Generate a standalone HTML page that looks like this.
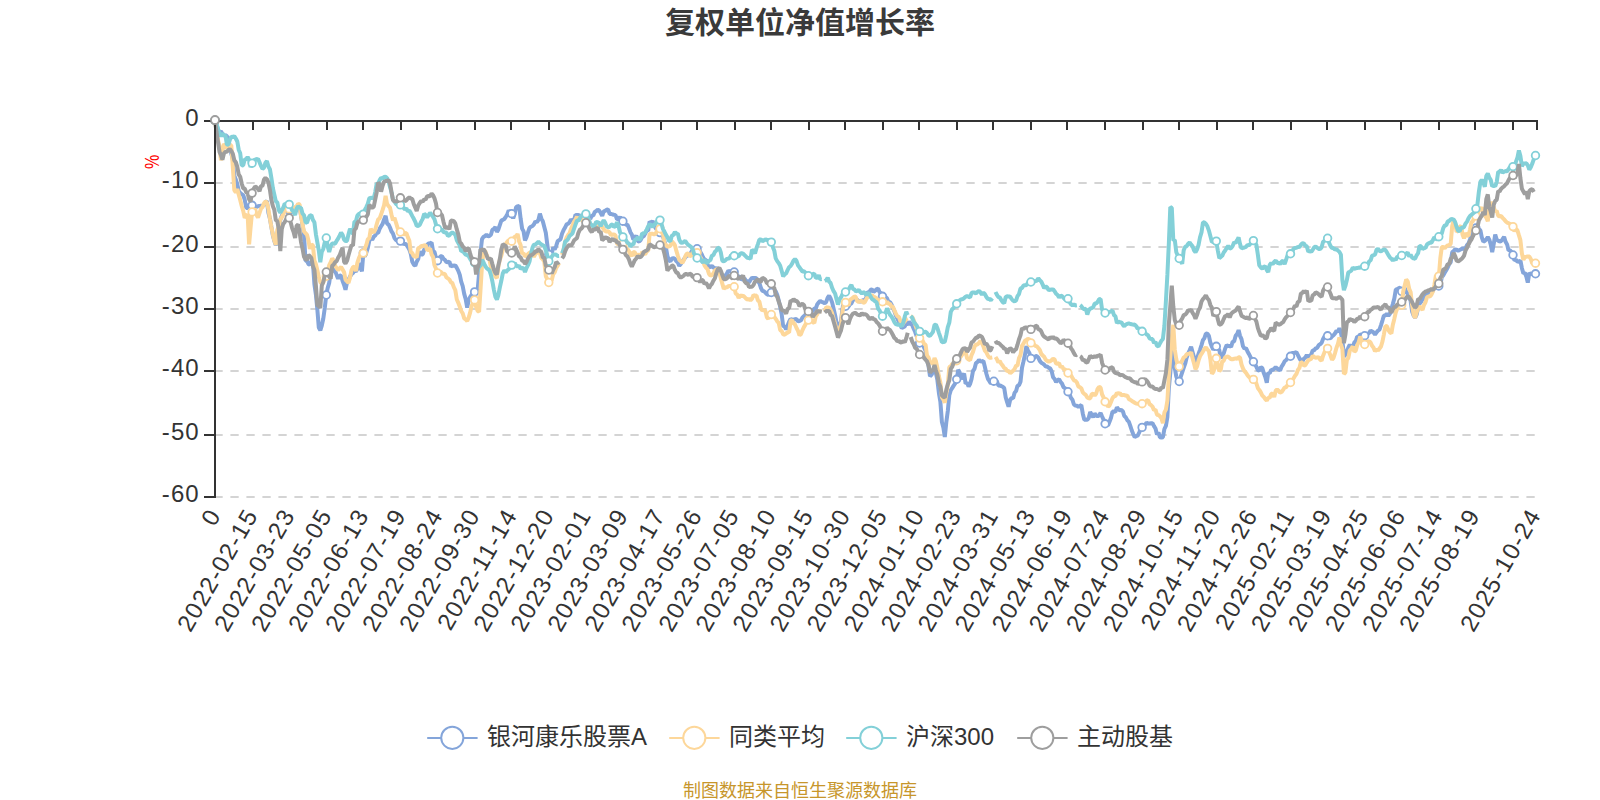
<!DOCTYPE html>
<html lang="zh"><head><meta charset="utf-8"><title>复权单位净值增长率</title>
<style>
html,body{margin:0;padding:0;background:#fff;}
body{width:1600px;height:800px;overflow:hidden;font-family:"Liberation Sans","Noto Sans CJK SC",sans-serif;}
svg{display:block}
text{font-family:"Liberation Sans","Noto Sans CJK SC",sans-serif;}
</style></head><body>
<svg width="1600" height="800" viewBox="0 0 1600 800">
<rect width="1600" height="800" fill="#fff"/>
<text x="800" y="33" text-anchor="middle" font-size="30" font-weight="bold" fill="#3a3a3a">复权单位净值增长率</text>
<line x1="215.0" y1="183.00" x2="1537.0" y2="183.00" stroke="#c6c6c6" stroke-width="1.5" stroke-dasharray="8.3 7.7" stroke-dashoffset="0.6"/>
<line x1="215.0" y1="247.00" x2="1537.0" y2="247.00" stroke="#c6c6c6" stroke-width="1.5" stroke-dasharray="8.3 7.7" stroke-dashoffset="0.6"/>
<line x1="215.0" y1="309.00" x2="1537.0" y2="309.00" stroke="#c6c6c6" stroke-width="1.5" stroke-dasharray="8.3 7.7" stroke-dashoffset="0.6"/>
<line x1="215.0" y1="371.00" x2="1537.0" y2="371.00" stroke="#c6c6c6" stroke-width="1.5" stroke-dasharray="8.3 7.7" stroke-dashoffset="0.6"/>
<line x1="215.0" y1="435.00" x2="1537.0" y2="435.00" stroke="#c6c6c6" stroke-width="1.5" stroke-dasharray="8.3 7.7" stroke-dashoffset="0.6"/>
<line x1="215.0" y1="497.00" x2="1537.0" y2="497.00" stroke="#c6c6c6" stroke-width="1.5" stroke-dasharray="8.3 7.7" stroke-dashoffset="0.6"/>
<polyline points="215.0,120.5 216.5,124.4 218.0,129.7 219.5,132.3 220.9,131.2 222.4,133.7 223.9,135.7 225.4,134.9 226.9,136.2 228.4,138.6 229.8,147.6 231.3,153.7 232.8,159.3 234.3,175.6 235.8,179.5 237.3,184.1 238.7,191.0 240.2,192.9 241.7,194.3 243.2,195.2 244.7,199.5 246.2,208.0 247.6,208.0 249.1,204.5 250.6,204.9 252.1,205.7 253.6,206.6 255.1,206.8 256.5,207.0 258.0,206.3 259.5,205.9 261.0,205.8 262.5,205.8 264.0,204.7 265.4,202.1 266.9,201.0 268.4,212.7 269.9,218.4 271.4,227.2 272.9,235.6 274.3,240.8 275.8,245.2 277.3,239.6 278.8,228.6 280.3,219.7 281.8,215.8 283.2,213.4 284.7,209.5 286.2,209.3 287.7,209.7 289.2,209.3 290.7,211.1 292.1,212.1 293.6,210.1 295.1,208.4 296.6,207.4 298.1,207.8 299.6,207.1 301.0,215.4 302.5,224.5 304.0,234.0 305.5,260.7 307.0,260.9 308.5,264.1 309.9,264.8 311.4,261.4 312.9,262.6 314.4,284.2 315.9,294.6 317.4,310.1 318.8,327.5 320.3,330.4 321.8,325.6 323.3,318.5 324.8,307.7 326.3,294.5 327.7,287.9 329.2,282.9 330.7,271.2 332.2,272.1 333.7,266.4 335.2,271.2 336.6,274.9 338.1,278.7 339.6,275.7 341.1,275.4 342.6,281.1 344.1,284.9 345.5,289.8 347.0,282.3 348.5,279.6 350.0,276.6 351.5,274.2 353.0,273.0 354.4,270.3 355.9,271.7 357.4,268.8 358.9,263.0 360.4,267.9 361.9,271.3 363.3,253.7 364.8,256.5 366.3,252.7 367.8,247.8 369.3,240.9 370.8,238.2 372.2,239.8 373.7,236.8 375.2,235.5 376.7,232.9 378.2,232.7 379.7,228.6 381.1,226.3 382.6,223.9 384.1,219.5 385.6,215.8 387.1,223.7 388.6,224.5 390.0,227.6 391.5,231.4 393.0,233.7 394.5,238.1 396.0,240.1 397.5,240.9 398.9,238.9 400.4,241.7 401.9,241.4 403.4,244.2 404.9,243.6 406.4,244.7 407.8,246.8 409.3,249.4 410.8,254.0 412.3,261.9 413.8,264.6 415.3,265.8 416.7,261.7 418.2,259.1 419.7,251.3 421.2,254.6 422.7,254.4 424.2,249.7 425.6,247.7 427.1,245.0 428.6,243.5 430.1,243.3 431.6,242.5 433.1,251.3 434.5,251.9 436.0,258.0 437.5,261.9 439.0,258.7 440.5,256.3 442.0,256.2 443.4,258.8 444.9,259.9 446.4,262.0 447.9,262.2 449.4,261.7 450.9,266.6 452.3,265.5 453.8,265.8 455.3,265.4 456.8,267.9 458.3,270.9 459.8,274.9 461.2,281.6 462.7,286.1 464.2,293.9 465.7,299.1 467.2,307.7 468.7,299.9 470.1,297.1 471.6,294.7 473.1,292.8 474.6,291.5 476.1,291.3 477.6,290.6 479.1,273.0 480.5,252.5 482.0,239.1 483.5,236.8 485.0,236.1 486.5,234.5 488.0,236.4 489.4,236.0 490.9,234.8 492.4,229.8 493.9,229.0 495.4,227.1 496.9,232.0 498.3,229.7 499.8,225.1 501.3,220.6 502.8,219.9 504.3,219.0 505.8,216.8 507.2,214.6 508.7,210.3 510.2,212.6 511.7,212.9 513.2,218.5 514.7,213.8 516.1,207.2 517.6,206.3 519.1,205.8 520.6,218.4 522.1,228.6 523.6,231.4 525.0,240.4 526.5,237.2 528.0,232.4 529.5,227.8 531.0,226.7 532.5,226.0 533.9,224.4 535.4,221.4 536.9,222.2 538.4,219.9 539.9,213.7 541.4,218.6 542.8,221.2 544.3,227.0 545.8,232.8 547.3,244.6 548.8,255.5 550.3,253.0 551.7,253.6 553.2,247.6 554.7,249.5 556.2,245.9 557.7,241.2 559.2,240.1 560.6,239.1 562.1,233.5 563.6,230.1 565.1,227.5 566.6,224.4 568.1,223.7 569.5,222.4 571.0,219.3 572.5,220.8 574.0,220.3 575.5,214.9 577.0,215.1 578.4,215.0 579.9,215.6 581.4,217.1 582.9,216.0 584.4,215.6 585.9,215.1 587.3,215.9 588.8,217.3 590.3,218.8 591.8,215.7 593.3,215.4 594.8,211.8 596.2,211.2 597.7,209.6 599.2,210.7 600.7,213.0 602.2,215.8 603.7,211.4 605.1,210.9 606.6,209.7 608.1,209.4 609.6,213.9 611.1,213.9 612.6,214.5 614.0,214.8 615.5,215.1 617.0,219.3 618.5,219.1 620.0,216.7 621.5,220.1 622.9,220.0 624.4,222.0 625.9,224.7 627.4,224.7 628.9,228.0 630.4,232.2 631.8,234.5 633.3,239.3 634.8,238.6 636.3,235.4 637.8,241.1 639.3,241.6 640.7,239.9 642.2,236.8 643.7,236.4 645.2,233.6 646.7,230.3 648.2,230.7 649.6,221.5 651.1,222.9 652.6,221.0 654.1,225.1 655.6,228.1 657.1,230.1 658.5,230.9 660.0,231.9 661.5,235.0 663.0,236.4 664.5,241.5 666.0,247.8 667.4,255.9 668.9,260.4 670.4,261.5 671.9,258.4 673.4,258.2 674.9,258.8 676.3,261.1 677.8,262.5 679.3,265.8 680.8,264.0 682.3,261.7 683.8,259.4 685.2,257.6 686.7,255.5 688.2,255.6 689.7,254.1 691.2,252.1 692.7,249.9 694.1,249.8 695.6,249.9 697.1,248.2 698.6,249.1 700.1,251.7 701.6,254.0 703.0,257.3 704.5,259.9 706.0,259.8 707.5,264.6 709.0,267.0 710.5,267.0 711.9,265.8 713.4,267.3 714.9,268.8 716.4,267.9 717.9,269.2 719.4,273.7 720.8,272.6 722.3,278.5 723.8,276.5 725.3,275.7 726.8,273.6 728.3,270.8 729.7,271.7 731.2,271.0 732.7,271.4 734.2,272.5 735.7,274.2 737.2,275.8 738.7,276.4 740.1,276.9 741.6,279.7 743.1,278.9 744.6,278.6 746.1,281.0 747.6,281.2 749.0,282.5 750.5,279.7 752.0,277.9 753.5,278.0 755.0,278.1 756.5,278.3 757.9,281.3 759.4,283.2 760.9,287.8 762.4,290.9 763.9,291.3 765.4,292.6 766.8,294.1 768.3,295.0 769.8,293.7 771.3,293.4 772.8,292.1 774.3,290.1 775.7,291.2 777.2,294.7 778.7,300.2 780.2,307.1 781.7,314.4 783.2,326.4 784.6,326.2 786.1,329.4 787.6,325.6 789.1,321.8 790.6,319.0 792.1,319.8 793.5,319.6 795.0,319.3 796.5,319.0 798.0,321.3 799.5,321.0 801.0,320.2 802.4,317.6 803.9,316.1 805.4,315.4 806.9,314.4 808.4,314.0 809.9,314.3 811.3,311.8 812.8,311.0 814.3,308.6 815.8,308.5 817.3,304.2 818.8,302.4 820.2,300.9 821.7,301.9 823.2,302.4 824.7,303.2 826.2,301.9 827.7,297.6 829.1,295.7 830.6,298.5 832.1,302.4 833.6,308.7 835.1,315.1 836.6,323.1 838.0,334.3 839.5,325.7 841.0,321.2 842.5,308.3 844.0,306.4 845.5,307.3 846.9,306.4 848.4,306.6 849.9,304.4 851.4,303.3 852.9,300.2 854.4,298.9 855.8,298.2 857.3,300.0 858.8,301.1 860.3,301.8 861.8,300.8 863.3,300.2 864.7,300.0 866.2,297.9 867.7,291.8 869.2,292.4 870.7,289.8 872.2,289.5 873.6,292.0 875.1,290.8 876.6,289.2 878.1,288.5 879.6,292.3 881.1,293.2 882.5,297.7 884.0,296.5 885.5,297.0 887.0,298.3 888.5,302.1 890.0,302.1 891.4,304.4 892.9,307.8 894.4,311.1 895.9,315.7 897.4,318.6 898.9,321.8 900.3,324.7 901.8,328.1 903.3,327.1 904.8,326.4 906.3,323.4 907.8,324.6 909.2,321.7 910.7,323.9 912.2,324.9 913.7,328.7 915.2,332.0 916.7,336.3 918.1,338.6 919.6,343.0 921.1,344.0 922.6,342.5 924.1,347.7 925.6,350.8 927.0,360.3 928.5,365.6 930.0,376.2 931.5,374.8 933.0,371.9 934.5,367.0 935.9,373.0 937.4,380.2 938.9,393.1 940.4,402.0 941.9,422.0 943.4,427.7 944.8,437.0 946.3,422.2 947.8,411.0 949.3,395.3 950.8,390.3 952.3,387.9 953.7,385.6 955.2,383.4 956.7,379.7 958.2,369.8 959.7,372.4 961.2,379.4 962.6,375.8 964.1,373.5 965.6,383.6 967.1,382.7 968.6,386.4 970.1,383.9 971.5,379.1 973.0,371.0 974.5,368.8 976.0,362.9 977.5,362.1 979.0,359.9 980.4,361.2 981.9,361.4 983.4,360.9 984.9,367.0 986.4,373.7 987.9,378.8 989.3,380.9 990.8,383.4 992.3,382.1 993.8,380.4 995.3,382.4 996.8,380.9 998.3,385.4 999.7,385.5 1001.2,386.0 1002.7,386.7 1004.2,388.0 1005.7,397.4 1007.2,402.4 1008.6,406.7 1010.1,400.0 1011.6,398.0 1013.1,398.2 1014.6,392.7 1016.1,391.0 1017.5,385.7 1019.0,385.3 1020.5,381.7 1022.0,367.7 1023.5,361.4 1025.0,354.5 1026.4,346.2 1027.9,350.6 1029.4,353.0 1030.9,358.9 1032.4,358.1 1033.9,358.3 1035.3,356.3 1036.8,356.1 1038.3,357.6 1039.8,360.9 1041.3,362.7 1042.8,363.6 1044.2,364.6 1045.7,366.6 1047.2,366.6 1048.7,367.8 1050.2,368.4 1051.7,371.4 1053.1,377.2 1054.6,379.0 1056.1,382.2 1057.6,380.1 1059.1,379.2 1060.6,381.9 1062.0,383.6 1063.5,387.1 1065.0,388.3 1066.5,389.0 1068.0,390.3 1069.5,393.5 1070.9,397.8 1072.4,399.7 1073.9,404.5 1075.4,405.6 1076.9,405.8 1078.4,407.0 1079.8,405.9 1081.3,405.1 1082.8,413.7 1084.3,419.7 1085.8,419.7 1087.3,419.7 1088.7,417.9 1090.2,412.1 1091.7,414.5 1093.2,417.3 1094.7,413.5 1096.2,415.4 1097.6,416.2 1099.1,415.4 1100.6,412.9 1102.1,416.5 1103.6,419.8 1105.1,422.5 1106.5,424.1 1108.0,425.5 1109.5,421.8 1111.0,417.8 1112.5,411.6 1114.0,411.6 1115.4,411.9 1116.9,407.3 1118.4,409.2 1119.9,410.3 1121.4,410.0 1122.9,411.4 1124.3,416.0 1125.8,417.3 1127.3,420.2 1128.8,421.6 1130.3,425.8 1131.8,430.5 1133.2,434.0 1134.7,437.2 1136.2,436.2 1137.7,435.7 1139.2,432.5 1140.7,428.7 1142.1,427.0 1143.6,426.0 1145.1,424.8 1146.6,422.6 1148.1,423.5 1149.6,423.6 1151.0,423.3 1152.5,423.2 1154.0,426.1 1155.5,428.5 1157.0,434.6 1158.5,432.5 1159.9,437.3 1161.4,437.6 1162.9,437.2 1164.4,429.0 1165.9,425.9 1167.4,416.8 1168.8,388.8 1170.3,372.9 1171.8,356.0 1173.3,349.5 1174.8,368.1 1176.3,376.6 1177.7,380.2 1179.2,381.2 1180.7,376.8 1182.2,372.3 1183.7,367.9 1185.2,363.7 1186.6,357.8 1188.1,353.5 1189.6,350.3 1191.1,346.9 1192.6,352.2 1194.1,357.8 1195.5,362.7 1197.0,358.7 1198.5,354.0 1200.0,349.8 1201.5,345.1 1203.0,339.9 1204.4,338.2 1205.9,333.6 1207.4,333.7 1208.9,335.9 1210.4,342.8 1211.9,346.7 1213.3,349.8 1214.8,347.6 1216.3,346.2 1217.8,348.2 1219.3,350.0 1220.8,358.2 1222.2,356.0 1223.7,353.3 1225.2,348.5 1226.7,345.1 1228.2,346.0 1229.7,345.9 1231.1,347.0 1232.6,341.8 1234.1,341.5 1235.6,335.9 1237.1,334.1 1238.6,330.1 1240.0,335.8 1241.5,339.1 1243.0,346.3 1244.5,348.7 1246.0,348.0 1247.5,351.4 1248.9,353.9 1250.4,356.8 1251.9,360.0 1253.4,360.9 1254.9,363.8 1256.4,366.9 1257.9,370.1 1259.3,370.7 1260.8,367.0 1262.3,368.1 1263.8,373.1 1265.3,376.9 1266.8,382.8 1268.2,372.8 1269.7,373.3 1271.2,369.7 1272.7,370.2 1274.2,368.7 1275.7,367.2 1277.1,368.5 1278.6,369.5 1280.1,370.4 1281.6,366.6 1283.1,364.3 1284.6,361.3 1286.0,360.2 1287.5,358.3 1289.0,357.9 1290.5,357.4 1292.0,353.1 1293.5,353.0 1294.9,352.8 1296.4,352.2 1297.9,355.1 1299.4,358.1 1300.9,360.6 1302.4,361.3 1303.8,358.8 1305.3,357.5 1306.8,355.0 1308.3,357.3 1309.8,356.1 1311.3,354.4 1312.7,350.4 1314.2,350.2 1315.7,348.3 1317.2,347.8 1318.7,345.2 1320.2,344.2 1321.6,342.9 1323.1,338.9 1324.6,336.2 1326.1,337.7 1327.6,336.1 1329.1,338.1 1330.5,338.4 1332.0,336.4 1333.5,335.2 1335.0,333.4 1336.5,330.9 1338.0,331.7 1339.4,328.1 1340.9,332.7 1342.4,340.1 1343.9,356.6 1345.4,354.7 1346.9,350.8 1348.3,347.7 1349.8,344.6 1351.3,347.4 1352.8,348.0 1354.3,342.4 1355.8,341.2 1357.2,336.7 1358.7,336.7 1360.2,334.4 1361.7,335.0 1363.2,335.4 1364.7,335.9 1366.1,335.4 1367.6,333.7 1369.1,333.0 1370.6,330.6 1372.1,331.5 1373.6,332.5 1375.0,334.5 1376.5,332.3 1378.0,330.7 1379.5,329.7 1381.0,325.1 1382.5,320.3 1383.9,315.5 1385.4,315.5 1386.9,313.7 1388.4,315.7 1389.9,313.8 1391.4,308.9 1392.8,304.1 1394.3,298.6 1395.8,289.6 1397.3,289.0 1398.8,288.1 1400.3,287.6 1401.7,292.2 1403.2,288.8 1404.7,288.1 1406.2,291.7 1407.7,293.5 1409.2,297.5 1410.6,300.7 1412.1,311.5 1413.6,315.5 1415.1,317.5 1416.6,314.5 1418.1,307.9 1419.5,303.8 1421.0,302.0 1422.5,299.1 1424.0,298.6 1425.5,294.6 1427.0,293.8 1428.4,291.9 1429.9,292.6 1431.4,292.3 1432.9,290.8 1434.4,287.9 1435.9,287.5 1437.3,287.6 1438.8,284.2 1440.3,284.4 1441.8,277.4 1443.3,275.4 1444.8,272.6 1446.2,270.2 1447.7,267.5 1449.2,263.9 1450.7,262.1 1452.2,252.3 1453.7,250.9 1455.1,249.4 1456.6,249.7 1458.1,250.8 1459.6,250.0 1461.1,249.3 1462.6,248.2 1464.0,248.9 1465.5,248.3 1467.0,245.0 1468.5,243.4 1470.0,239.4 1471.5,234.1 1472.9,230.3 1474.4,227.7 1475.9,228.7 1477.4,229.2 1478.9,229.4 1480.4,230.3 1481.8,237.4 1483.3,241.6 1484.8,240.9 1486.3,239.3 1487.8,237.1 1489.3,239.7 1490.7,244.3 1492.2,252.0 1493.7,244.2 1495.2,234.5 1496.7,239.5 1498.2,240.8 1499.6,241.5 1501.1,241.0 1502.6,239.2 1504.1,236.9 1505.6,241.8 1507.1,244.4 1508.5,250.3 1510.0,250.3 1511.5,252.1 1513.0,254.5 1514.5,260.6 1516.0,259.8 1517.5,261.6 1518.9,261.7 1520.4,260.5 1521.9,268.2 1523.4,273.4 1524.9,272.7 1526.4,276.8 1527.8,282.6 1529.3,272.7 1530.8,274.6 1532.3,273.2 1533.8,274.6 1535.3,274.2" fill="none" stroke="#84a5da" stroke-width="4" stroke-linejoin="bevel"/>
<circle cx="215.0" cy="120.5" r="3.8" fill="#fff" stroke="#84a5da" stroke-width="1.8"/>
<circle cx="252.1" cy="205.3" r="3.8" fill="#fff" stroke="#84a5da" stroke-width="1.8"/>
<circle cx="289.2" cy="210.1" r="3.8" fill="#fff" stroke="#84a5da" stroke-width="1.8"/>
<circle cx="326.3" cy="295.0" r="3.8" fill="#fff" stroke="#84a5da" stroke-width="1.8"/>
<circle cx="363.3" cy="253.0" r="3.8" fill="#fff" stroke="#84a5da" stroke-width="1.8"/>
<circle cx="400.4" cy="241.1" r="3.8" fill="#fff" stroke="#84a5da" stroke-width="1.8"/>
<circle cx="437.5" cy="260.7" r="3.8" fill="#fff" stroke="#84a5da" stroke-width="1.8"/>
<circle cx="474.6" cy="291.9" r="3.8" fill="#fff" stroke="#84a5da" stroke-width="1.8"/>
<circle cx="511.7" cy="213.7" r="3.8" fill="#fff" stroke="#84a5da" stroke-width="1.8"/>
<circle cx="548.8" cy="254.5" r="3.8" fill="#fff" stroke="#84a5da" stroke-width="1.8"/>
<circle cx="585.9" cy="215.6" r="3.8" fill="#fff" stroke="#84a5da" stroke-width="1.8"/>
<circle cx="622.9" cy="221.2" r="3.8" fill="#fff" stroke="#84a5da" stroke-width="1.8"/>
<circle cx="660.0" cy="232.6" r="3.8" fill="#fff" stroke="#84a5da" stroke-width="1.8"/>
<circle cx="697.1" cy="248.7" r="3.8" fill="#fff" stroke="#84a5da" stroke-width="1.8"/>
<circle cx="734.2" cy="272.0" r="3.8" fill="#fff" stroke="#84a5da" stroke-width="1.8"/>
<circle cx="771.3" cy="292.5" r="3.8" fill="#fff" stroke="#84a5da" stroke-width="1.8"/>
<circle cx="808.4" cy="313.7" r="3.8" fill="#fff" stroke="#84a5da" stroke-width="1.8"/>
<circle cx="845.5" cy="306.3" r="3.8" fill="#fff" stroke="#84a5da" stroke-width="1.8"/>
<circle cx="882.5" cy="296.3" r="3.8" fill="#fff" stroke="#84a5da" stroke-width="1.8"/>
<circle cx="919.6" cy="343.0" r="3.8" fill="#fff" stroke="#84a5da" stroke-width="1.8"/>
<circle cx="956.7" cy="379.3" r="3.8" fill="#fff" stroke="#84a5da" stroke-width="1.8"/>
<circle cx="993.8" cy="381.2" r="3.8" fill="#fff" stroke="#84a5da" stroke-width="1.8"/>
<circle cx="1030.9" cy="358.4" r="3.8" fill="#fff" stroke="#84a5da" stroke-width="1.8"/>
<circle cx="1068.0" cy="391.7" r="3.8" fill="#fff" stroke="#84a5da" stroke-width="1.8"/>
<circle cx="1105.1" cy="423.8" r="3.8" fill="#fff" stroke="#84a5da" stroke-width="1.8"/>
<circle cx="1142.1" cy="427.4" r="3.8" fill="#fff" stroke="#84a5da" stroke-width="1.8"/>
<circle cx="1179.2" cy="381.5" r="3.8" fill="#fff" stroke="#84a5da" stroke-width="1.8"/>
<circle cx="1216.3" cy="346.3" r="3.8" fill="#fff" stroke="#84a5da" stroke-width="1.8"/>
<circle cx="1253.4" cy="361.7" r="3.8" fill="#fff" stroke="#84a5da" stroke-width="1.8"/>
<circle cx="1290.5" cy="356.3" r="3.8" fill="#fff" stroke="#84a5da" stroke-width="1.8"/>
<circle cx="1327.6" cy="335.8" r="3.8" fill="#fff" stroke="#84a5da" stroke-width="1.8"/>
<circle cx="1364.7" cy="335.7" r="3.8" fill="#fff" stroke="#84a5da" stroke-width="1.8"/>
<circle cx="1401.7" cy="291.4" r="3.8" fill="#fff" stroke="#84a5da" stroke-width="1.8"/>
<circle cx="1438.8" cy="286.0" r="3.8" fill="#fff" stroke="#84a5da" stroke-width="1.8"/>
<circle cx="1475.9" cy="228.0" r="3.8" fill="#fff" stroke="#84a5da" stroke-width="1.8"/>
<circle cx="1513.0" cy="255.0" r="3.8" fill="#fff" stroke="#84a5da" stroke-width="1.8"/>
<circle cx="1535.5" cy="273.8" r="3.8" fill="#fff" stroke="#84a5da" stroke-width="1.8"/>
<polyline points="215.0,120.5 216.5,131.5 218.0,139.9 219.5,146.4 220.9,160.4 222.4,151.5 223.9,143.8 225.4,145.9 226.9,147.8 228.4,148.4 229.8,144.9 231.3,145.4 232.8,166.5 234.3,190.2 235.8,192.4 237.3,189.0 238.7,194.5 240.2,200.0 241.7,206.0 243.2,210.8 244.7,217.8 246.2,216.1 247.6,214.0 249.1,244.3 250.6,227.3 252.1,211.6 253.6,211.0 255.1,208.6 256.5,214.8 258.0,217.7 259.5,213.1 261.0,208.7 262.5,207.2 264.0,203.2 265.4,201.5 266.9,202.4 268.4,209.0 269.9,218.5 271.4,227.1 272.9,234.7 274.3,240.4 275.8,244.8 277.3,229.7 278.8,226.3 280.3,219.2 281.8,217.4 283.2,214.3 284.7,209.9 286.2,210.1 287.7,209.6 289.2,207.6 290.7,210.0 292.1,209.3 293.6,209.4 295.1,207.2 296.6,206.2 298.1,203.8 299.6,204.6 301.0,215.7 302.5,224.2 304.0,231.5 305.5,233.1 307.0,234.8 308.5,240.7 309.9,248.8 311.4,244.6 312.9,245.3 314.4,260.5 315.9,264.2 317.4,270.4 318.8,277.0 320.3,282.0 321.8,284.2 323.3,282.4 324.8,278.5 326.3,275.1 327.7,271.4 329.2,265.1 330.7,262.3 332.2,258.4 333.7,260.6 335.2,265.9 336.6,268.0 338.1,270.1 339.6,268.5 341.1,267.0 342.6,269.5 344.1,272.2 345.5,279.7 347.0,281.3 348.5,283.0 350.0,277.6 351.5,270.1 353.0,267.2 354.4,266.7 355.9,271.2 357.4,262.6 358.9,258.1 360.4,254.8 361.9,252.3 363.3,253.4 364.8,248.9 366.3,244.9 367.8,239.2 369.3,238.3 370.8,228.9 372.2,231.1 373.7,232.7 375.2,229.7 376.7,224.3 378.2,219.3 379.7,218.3 381.1,214.5 382.6,209.9 384.1,205.1 385.6,195.8 387.1,204.0 388.6,206.1 390.0,207.6 391.5,214.7 393.0,220.4 394.5,217.7 396.0,222.7 397.5,227.6 398.9,230.7 400.4,231.8 401.9,232.3 403.4,234.8 404.9,233.3 406.4,233.1 407.8,237.2 409.3,240.5 410.8,252.3 412.3,253.1 413.8,256.3 415.3,256.4 416.7,257.4 418.2,248.1 419.7,247.6 421.2,246.0 422.7,246.0 424.2,245.5 425.6,245.1 427.1,250.1 428.6,249.7 430.1,248.6 431.6,254.4 433.1,257.0 434.5,265.3 436.0,268.8 437.5,274.1 439.0,272.3 440.5,271.5 442.0,273.5 443.4,273.7 444.9,274.2 446.4,277.4 447.9,278.4 449.4,279.5 450.9,282.3 452.3,282.9 453.8,287.2 455.3,290.1 456.8,299.5 458.3,302.8 459.8,306.7 461.2,311.0 462.7,313.3 464.2,318.4 465.7,319.5 467.2,321.1 468.7,317.5 470.1,312.6 471.6,306.3 473.1,302.5 474.6,299.6 476.1,306.9 477.6,310.8 479.1,311.8 480.5,289.9 482.0,265.4 483.5,252.3 485.0,250.5 486.5,254.4 488.0,258.1 489.4,259.1 490.9,267.2 492.4,269.8 493.9,271.9 495.4,276.7 496.9,277.9 498.3,266.9 499.8,259.9 501.3,255.9 502.8,249.5 504.3,246.1 505.8,243.9 507.2,241.7 508.7,240.3 510.2,242.0 511.7,241.9 513.2,239.3 514.7,236.6 516.1,236.3 517.6,234.0 519.1,241.5 520.6,245.1 522.1,253.7 523.6,253.2 525.0,256.4 526.5,255.6 528.0,254.0 529.5,252.7 531.0,252.3 532.5,254.5 533.9,256.8 535.4,254.0 536.9,252.5 538.4,250.1 539.9,253.2 541.4,258.2 542.8,259.2 544.3,261.9 545.8,276.1 547.3,279.4 548.8,283.2 550.3,280.9 551.7,280.3 553.2,274.2 554.7,272.3 556.2,267.8 557.7,265.6 559.1,263.0" fill="none" stroke="#fdd79a" stroke-width="4" stroke-linejoin="bevel"/>
<polyline points="562.1,254.9 563.6,249.4 565.1,241.9 566.6,237.5 568.1,234.9 569.5,233.4 571.0,228.8 572.5,225.5 574.0,221.8 575.5,219.5 577.0,216.8 578.4,219.6 579.9,218.7 581.4,219.8 582.9,220.7 584.4,220.3 585.9,221.7 587.3,221.8 588.8,224.6 590.3,225.3 591.8,226.1 593.3,225.2 594.8,227.0 596.2,224.9 597.7,226.7 599.2,226.7 600.7,225.6 602.2,226.7 603.7,229.2 605.1,231.0 606.6,231.6 608.1,231.2 609.6,232.5 611.1,235.4 612.6,234.5 614.0,234.4 615.5,235.6 617.0,243.7 618.5,244.1 620.0,245.4 621.5,244.4 622.9,244.8 624.4,244.8 625.9,247.3 627.4,249.0 628.9,251.2 630.4,254.5 631.8,256.0 633.3,251.9 634.8,252.4 636.3,255.9 637.8,254.5 639.3,255.1 640.7,255.6 642.2,252.0 643.7,253.2 645.2,254.4 646.7,251.1 648.2,250.8 649.6,233.9 651.1,233.7 652.6,233.8 654.1,234.5 655.6,233.8 657.1,230.5 658.5,230.4 660.0,229.7 661.5,231.8 663.0,234.3 664.5,243.8 666.0,244.9 667.4,246.8 668.9,246.3 670.4,245.8 671.9,241.3 673.4,243.0 674.9,245.2 676.3,250.7 677.8,255.6 679.3,259.9 680.8,261.2 682.3,262.9 683.8,260.3 685.2,256.4 686.7,253.8 688.2,253.6 689.7,256.2 691.2,255.6 692.7,252.2 694.1,251.9 695.6,251.0 697.1,252.0 698.6,254.7 700.1,256.9 701.6,259.4 703.0,261.1 704.5,265.3 706.0,267.6 707.5,269.1 709.0,273.9 710.5,275.6 711.9,275.1 713.4,273.4 714.9,270.4 716.4,269.5 717.9,269.0 719.4,272.6 720.8,278.4 722.3,283.6 723.8,288.9 725.3,287.2 726.8,287.7 728.3,286.2 729.7,285.8 731.2,286.5 732.7,286.3 734.2,286.7 735.7,293.6 737.2,294.5 738.7,298.0 740.1,295.2 741.6,296.3 743.1,295.6 744.6,297.0 746.1,298.6 747.6,299.8 749.0,298.8 750.5,300.2 752.0,298.8 753.5,295.0 755.0,295.7 756.5,295.6 757.9,300.4 759.4,301.6 760.9,308.5 762.4,310.6 763.9,309.8 765.4,311.1 766.8,317.1 768.3,318.9 769.8,314.9 771.3,314.8 772.8,315.4 774.3,316.8 775.7,318.8 777.2,321.3 778.7,322.9 780.2,330.2 781.7,331.0 783.2,334.4 784.6,334.7 786.1,333.7 787.6,332.1 789.1,332.5 790.6,321.0 792.1,320.0 793.5,323.0 795.0,324.5 796.5,328.0 798.0,330.9 799.5,335.3 801.0,334.1 802.4,330.3 803.9,327.1 805.4,324.6 806.9,321.8 808.4,318.4 809.9,320.9 811.3,321.1 812.8,321.8 814.3,323.2 815.8,316.2 817.3,314.3 818.8,310.6 820.2,311.1 821.7,311.5" fill="none" stroke="#fdd79a" stroke-width="4" stroke-linejoin="bevel"/>
<polyline points="824.7,311.1 826.2,307.2 827.7,307.7 829.1,307.6 830.6,309.9 832.1,313.2 833.6,318.5 835.1,323.7 836.6,329.8 838.0,333.5 839.5,328.6 841.0,325.0 842.5,311.7 844.0,302.5 845.5,301.8 846.9,304.0 848.4,305.4 849.9,299.9 851.4,298.9 852.9,297.8 854.4,296.3 855.8,297.1 857.3,301.2 858.8,302.2 860.3,301.2 861.8,300.5 863.3,302.8 864.7,302.4 866.2,299.4 867.7,296.5 869.2,297.0 870.7,295.4 872.2,295.4 873.6,296.9 875.1,297.3 876.6,298.4 878.1,300.6 879.6,301.1 881.1,301.0 882.5,302.6 884.0,303.1 885.5,303.6 887.0,301.6 888.5,304.0 890.0,303.6 891.4,306.5 892.9,306.7 894.4,310.4 895.9,313.7 897.4,316.4 898.9,316.9 900.3,320.8 901.8,325.8 903.3,322.9 904.8,321.3 906.3,319.2 907.7,318.5" fill="none" stroke="#fdd79a" stroke-width="4" stroke-linejoin="bevel"/>
<polyline points="910.7,316.5 912.2,316.9 913.7,320.0 915.2,324.6 916.7,328.9 918.1,333.3 919.6,338.1 921.1,338.7 922.6,340.6 924.1,343.9 925.6,344.7 927.0,355.8 928.5,357.4 930.0,361.6 931.5,362.5 933.0,364.2 934.5,358.1 935.9,361.1 937.4,368.0 938.9,376.3 940.4,382.8 941.9,397.1 943.4,399.6 944.8,402.7 946.3,393.5 947.8,385.0 949.3,367.1 950.8,366.3 952.3,363.6 953.7,364.3 955.2,362.3 956.7,360.2 958.2,360.1 959.7,357.3 961.2,356.1 962.6,354.0 964.1,352.4 965.6,352.1 967.1,358.2 968.6,359.5 970.1,360.2 971.5,355.3 973.0,351.9 974.5,346.7 976.0,344.5 977.5,344.4 979.0,342.8 980.4,340.8 981.9,343.0 983.4,346.4 984.9,350.8 986.4,352.5 987.9,355.7 989.3,357.7 990.8,357.7 992.3,357.4" fill="none" stroke="#fdd79a" stroke-width="4" stroke-linejoin="bevel"/>
<polyline points="992.5,357.5" fill="none" stroke="#fdd79a" stroke-width="4" stroke-linejoin="bevel"/>
<polyline points="995.5,357.0 996.8,359.0 998.3,362.4 999.7,361.0 1001.2,363.8 1002.7,365.6 1004.2,368.0 1005.7,368.7 1007.2,371.3 1008.6,370.7 1010.1,373.2 1011.6,372.1 1013.1,370.8 1014.6,369.0 1016.1,365.7 1017.5,365.5 1019.0,358.2 1020.5,355.0 1022.0,345.9 1023.5,343.6 1025.0,340.8 1026.4,339.9 1027.9,338.8 1029.4,339.3 1030.9,343.4 1032.4,344.9 1033.9,344.3 1035.3,345.8 1036.8,346.3 1038.3,348.0 1039.8,350.0 1041.3,354.0 1042.8,355.5 1044.2,356.8 1045.7,359.7 1047.2,360.9 1048.7,361.6 1050.2,361.3 1051.7,360.1 1053.1,358.7 1054.6,359.5 1056.1,363.6 1057.6,363.8 1059.1,363.2 1060.6,367.4 1062.0,366.2 1063.5,369.1 1065.0,369.5 1066.5,370.9 1068.0,372.9 1069.5,374.9 1070.9,375.1 1072.4,377.8 1073.9,380.3 1075.4,380.8 1076.9,382.5 1078.4,386.7 1079.8,387.2 1081.3,388.3 1082.8,392.4 1084.3,393.9 1085.8,394.9 1087.3,397.5 1088.7,398.3 1090.2,398.4 1091.7,394.3 1093.2,393.6 1094.7,395.5 1096.2,393.5 1097.6,388.9 1099.1,386.9 1100.6,387.6 1102.1,394.5 1103.6,397.5 1105.1,400.9 1106.5,402.8 1108.0,406.7 1109.5,405.6 1111.0,402.0 1112.5,398.1 1114.0,396.4 1115.4,396.1 1116.9,392.8 1118.4,393.8 1119.9,393.0 1121.4,395.4 1122.9,394.9 1124.3,394.9 1125.8,395.7 1127.3,395.4 1128.8,399.1 1130.3,399.8 1131.8,400.8 1133.2,401.8 1134.7,402.7 1136.2,403.6 1137.7,403.8 1139.2,403.7 1140.7,403.7 1142.1,403.9 1143.6,402.5 1145.1,402.7 1146.6,400.7 1148.1,400.1 1149.6,404.3 1151.0,405.1 1152.5,406.6 1154.0,410.1 1155.5,409.6 1157.0,414.7 1158.5,415.1 1159.9,416.3 1161.4,418.1 1162.9,423.3 1164.4,412.4 1165.9,409.6 1167.4,400.5 1168.8,376.0 1170.3,357.1 1171.8,337.4 1173.3,324.8 1174.8,349.7 1176.3,359.3 1177.7,365.0 1179.2,367.5 1180.7,362.7 1182.2,360.6 1183.7,357.4 1185.2,356.6 1186.6,354.4 1188.1,353.7 1189.6,353.8 1191.1,352.3 1192.6,358.4 1194.1,363.8 1195.5,369.2 1197.0,366.6 1198.5,360.7 1200.0,356.3 1201.5,353.8 1203.0,351.5 1204.4,349.0 1205.9,347.5 1207.4,349.5 1208.9,351.1 1210.4,359.6 1211.9,373.8 1213.3,372.0 1214.8,367.9 1216.3,357.3 1217.8,364.5 1219.3,371.4 1220.8,369.3 1222.2,361.4 1223.7,360.8 1225.2,357.3 1226.7,356.8 1228.2,356.6 1229.7,358.0 1231.1,359.3 1232.6,359.2 1234.1,358.8 1235.6,358.3 1237.1,358.9 1238.6,357.3 1240.0,357.3 1241.5,364.5 1243.0,368.5 1244.5,371.2 1246.0,372.8 1247.5,375.3 1248.9,376.9 1250.4,378.3 1251.9,378.9 1253.4,378.1 1254.9,380.6 1256.4,383.5 1257.9,388.2 1259.3,389.9 1260.8,392.4 1262.3,395.6 1263.8,396.9 1265.3,399.1 1266.8,400.7 1268.2,397.9 1269.7,397.6 1271.2,394.1 1272.7,393.4 1274.2,397.0 1275.7,390.7 1277.1,389.4 1278.6,390.8 1280.1,392.6 1281.6,392.0 1283.1,389.9 1284.6,387.5 1286.0,387.3 1287.5,385.1 1289.0,383.3 1290.5,381.7 1292.0,381.1 1293.5,378.4 1294.9,375.9 1296.4,374.0 1297.9,370.0 1299.4,367.9 1300.9,362.1 1302.4,362.9 1303.8,365.5 1305.3,365.2 1306.8,362.6 1308.3,360.1 1309.8,359.6 1311.3,358.7 1312.7,355.8 1314.2,356.9 1315.7,357.7 1317.2,357.6 1318.7,357.0 1320.2,359.7 1321.6,360.6 1323.1,355.7 1324.6,352.0 1326.1,349.1 1327.6,348.0 1329.1,352.3 1330.5,355.5 1332.0,359.8 1333.5,357.9 1335.0,353.1 1336.5,347.7 1338.0,343.6 1339.4,337.5 1340.9,344.3 1342.4,349.2 1343.9,374.0 1345.4,372.6 1346.9,359.5 1348.3,358.1 1349.8,350.5 1351.3,348.7 1352.8,346.5 1354.3,351.7 1355.8,350.6 1357.2,345.1 1358.7,342.2 1360.2,336.4 1361.7,341.2 1363.2,343.8 1364.7,345.1 1366.1,344.0 1367.6,341.8 1369.1,341.1 1370.6,342.5 1372.1,345.8 1373.6,347.7 1375.0,351.3 1376.5,349.0 1378.0,350.6 1379.5,348.5 1381.0,346.5 1382.5,341.4 1383.9,334.3 1385.4,326.0 1386.9,326.3 1388.4,330.1 1389.9,332.3 1391.4,333.4 1392.8,324.9 1394.3,318.9 1395.8,312.2 1397.3,308.2 1398.8,303.2 1400.3,304.1 1401.7,304.3 1403.2,291.5 1404.7,285.4 1406.2,279.4 1407.7,281.4 1409.2,288.9 1410.6,292.1 1412.1,305.0 1413.6,314.8 1415.1,318.0 1416.6,312.7 1418.1,308.5 1419.5,306.4 1421.0,307.9 1422.5,310.0 1424.0,305.0 1425.5,302.3 1427.0,297.2 1428.4,296.5 1429.9,296.6 1431.4,294.7 1432.9,291.5 1434.4,284.9 1435.9,275.6 1437.3,276.2 1438.8,277.1 1440.3,258.3 1441.8,247.0 1443.3,247.0 1444.8,248.1 1446.2,246.5 1447.7,245.4 1449.2,245.1 1450.7,243.9 1452.2,225.9 1453.7,220.2 1455.1,222.6 1456.6,231.9 1458.1,230.7 1459.6,227.1 1461.1,225.9 1462.6,234.8 1464.0,238.4 1465.5,233.1 1467.0,235.3 1468.5,235.8 1470.0,229.6 1471.5,222.2 1472.9,221.1 1474.4,217.3 1475.9,215.1 1477.4,213.1 1478.9,210.6 1480.4,209.5 1481.8,207.5 1483.3,211.9 1484.8,215.6 1486.3,217.7 1487.8,221.2 1489.3,208.8 1490.7,206.9 1492.2,201.8 1493.7,207.2 1495.2,211.7 1496.7,210.8 1498.2,215.8 1499.6,216.3 1501.1,216.1 1502.6,217.9 1504.1,219.4 1505.6,221.2 1507.1,222.6 1508.5,223.1 1510.0,224.0 1511.5,225.7 1513.0,226.0 1514.5,231.4 1516.0,228.7 1517.5,230.6 1518.9,235.2 1520.4,240.1 1521.9,253.5 1523.4,259.7 1524.9,257.0 1526.4,256.7 1527.8,256.4 1529.3,256.6 1530.8,259.0 1532.3,263.7 1533.8,262.9 1535.3,263.6" fill="none" stroke="#fdd79a" stroke-width="4" stroke-linejoin="bevel"/>
<circle cx="215.0" cy="120.5" r="3.8" fill="#fff" stroke="#fdd79a" stroke-width="1.8"/>
<circle cx="252.1" cy="211.9" r="3.8" fill="#fff" stroke="#fdd79a" stroke-width="1.8"/>
<circle cx="289.2" cy="208.9" r="3.8" fill="#fff" stroke="#fdd79a" stroke-width="1.8"/>
<circle cx="326.3" cy="276.2" r="3.8" fill="#fff" stroke="#fdd79a" stroke-width="1.8"/>
<circle cx="363.3" cy="253.1" r="3.8" fill="#fff" stroke="#fdd79a" stroke-width="1.8"/>
<circle cx="400.4" cy="232.0" r="3.8" fill="#fff" stroke="#fdd79a" stroke-width="1.8"/>
<circle cx="437.5" cy="273.0" r="3.8" fill="#fff" stroke="#fdd79a" stroke-width="1.8"/>
<circle cx="474.6" cy="299.9" r="3.8" fill="#fff" stroke="#fdd79a" stroke-width="1.8"/>
<circle cx="511.7" cy="241.2" r="3.8" fill="#fff" stroke="#fdd79a" stroke-width="1.8"/>
<circle cx="548.8" cy="282.5" r="3.8" fill="#fff" stroke="#fdd79a" stroke-width="1.8"/>
<circle cx="585.9" cy="220.1" r="3.8" fill="#fff" stroke="#fdd79a" stroke-width="1.8"/>
<circle cx="622.9" cy="243.8" r="3.8" fill="#fff" stroke="#fdd79a" stroke-width="1.8"/>
<circle cx="660.0" cy="228.8" r="3.8" fill="#fff" stroke="#fdd79a" stroke-width="1.8"/>
<circle cx="697.1" cy="252.6" r="3.8" fill="#fff" stroke="#fdd79a" stroke-width="1.8"/>
<circle cx="734.2" cy="286.7" r="3.8" fill="#fff" stroke="#fdd79a" stroke-width="1.8"/>
<circle cx="771.3" cy="314.5" r="3.8" fill="#fff" stroke="#fdd79a" stroke-width="1.8"/>
<circle cx="808.4" cy="320.1" r="3.8" fill="#fff" stroke="#fdd79a" stroke-width="1.8"/>
<circle cx="845.5" cy="302.5" r="3.8" fill="#fff" stroke="#fdd79a" stroke-width="1.8"/>
<circle cx="882.5" cy="301.8" r="3.8" fill="#fff" stroke="#fdd79a" stroke-width="1.8"/>
<circle cx="919.6" cy="338.1" r="3.8" fill="#fff" stroke="#fdd79a" stroke-width="1.8"/>
<circle cx="956.7" cy="360.8" r="3.8" fill="#fff" stroke="#fdd79a" stroke-width="1.8"/>
<circle cx="1030.9" cy="342.9" r="3.8" fill="#fff" stroke="#fdd79a" stroke-width="1.8"/>
<circle cx="1068.0" cy="373.0" r="3.8" fill="#fff" stroke="#fdd79a" stroke-width="1.8"/>
<circle cx="1105.1" cy="401.8" r="3.8" fill="#fff" stroke="#fdd79a" stroke-width="1.8"/>
<circle cx="1142.1" cy="403.7" r="3.8" fill="#fff" stroke="#fdd79a" stroke-width="1.8"/>
<circle cx="1179.2" cy="366.5" r="3.8" fill="#fff" stroke="#fdd79a" stroke-width="1.8"/>
<circle cx="1216.3" cy="358.3" r="3.8" fill="#fff" stroke="#fdd79a" stroke-width="1.8"/>
<circle cx="1253.4" cy="379.4" r="3.8" fill="#fff" stroke="#fdd79a" stroke-width="1.8"/>
<circle cx="1290.5" cy="382.5" r="3.8" fill="#fff" stroke="#fdd79a" stroke-width="1.8"/>
<circle cx="1327.6" cy="348.4" r="3.8" fill="#fff" stroke="#fdd79a" stroke-width="1.8"/>
<circle cx="1364.7" cy="344.5" r="3.8" fill="#fff" stroke="#fdd79a" stroke-width="1.8"/>
<circle cx="1401.7" cy="305.1" r="3.8" fill="#fff" stroke="#fdd79a" stroke-width="1.8"/>
<circle cx="1438.8" cy="276.1" r="3.8" fill="#fff" stroke="#fdd79a" stroke-width="1.8"/>
<circle cx="1475.9" cy="216.0" r="3.8" fill="#fff" stroke="#fdd79a" stroke-width="1.8"/>
<circle cx="1513.0" cy="226.6" r="3.8" fill="#fff" stroke="#fdd79a" stroke-width="1.8"/>
<circle cx="1535.5" cy="263.2" r="3.8" fill="#fff" stroke="#fdd79a" stroke-width="1.8"/>
<polyline points="215.0,120.5 216.5,123.9 218.0,128.8 219.5,133.4 220.9,136.5 222.4,133.2 223.9,135.7 225.4,135.1 226.9,144.6 228.4,144.8 229.8,139.9 231.3,136.6 232.8,137.0 234.3,136.2 235.8,138.5 237.3,141.5 238.7,149.7 240.2,153.2 241.7,165.6 243.2,165.3 244.7,159.6 246.2,159.1 247.6,157.0 249.1,159.8 250.6,167.0 252.1,162.8 253.6,165.5 255.1,158.7 256.5,159.7 258.0,158.8 259.5,162.3 261.0,165.9 262.5,169.0 264.0,167.8 265.4,162.8 266.9,161.1 268.4,166.5 269.9,169.2 271.4,178.1 272.9,188.3 274.3,194.5 275.8,201.2 277.3,202.5 278.8,210.2 280.3,212.6 281.8,210.1 283.2,207.8 284.7,203.6 286.2,204.4 287.7,203.8 289.2,206.4 290.7,207.0 292.1,210.1 293.6,211.8 295.1,215.1 296.6,208.8 298.1,206.1 299.6,207.8 301.0,207.8 302.5,213.5 304.0,215.2 305.5,222.1 307.0,222.9 308.5,218.1 309.9,215.6 311.4,215.2 312.9,219.9 314.4,222.3 315.9,234.3 317.4,242.6 318.8,250.5 320.3,262.2 321.8,251.8 323.3,248.8 324.8,242.2 326.3,237.9 327.7,246.6 329.2,251.9 330.7,246.2 332.2,243.6 333.7,243.5 335.2,243.7 336.6,240.9 338.1,238.6 339.6,235.7 341.1,232.7 342.6,234.9 344.1,239.7 345.5,241.1 347.0,240.9 348.5,234.2 350.0,228.7 351.5,231.8 353.0,233.9 354.4,221.8 355.9,221.3 357.4,215.4 358.9,214.0 360.4,213.1 361.9,214.3 363.3,215.1 364.8,209.9 366.3,207.1 367.8,203.8 369.3,198.4 370.8,197.7 372.2,198.0 373.7,198.4 375.2,192.1 376.7,183.7 378.2,183.5 379.7,180.1 381.1,177.8 382.6,178.5 384.1,177.0 385.6,176.7 387.1,178.1 388.6,181.6 390.0,186.9 391.5,192.2 393.0,199.9 394.5,201.4 396.0,204.0 397.5,204.5 398.9,205.2 400.4,205.2 401.9,206.4 403.4,207.7 404.9,209.4 406.4,208.5 407.8,211.3 409.3,210.6 410.8,213.1 412.3,216.1 413.8,218.8 415.3,221.9 416.7,225.8 418.2,225.9 419.7,224.8 421.2,221.6 422.7,218.9 424.2,213.7 425.6,215.0 427.1,217.4 428.6,215.1 430.1,212.7 431.6,214.8 433.1,216.9 434.5,219.3 436.0,224.6 437.5,229.5 439.0,229.1 440.5,230.2 442.0,229.2 443.4,231.8 444.9,232.4 446.4,232.5 447.9,235.9 449.4,235.4 450.9,233.4 452.3,232.5 453.8,233.4 455.3,234.7 456.8,240.3 458.3,242.9 459.8,245.5 461.2,251.2 462.7,250.9 464.2,252.9 465.7,254.6 467.2,255.1 468.7,256.3 470.1,258.8 471.6,261.0 473.1,262.3 474.6,260.3 476.1,265.8 477.6,271.2 479.1,266.1 480.5,265.9 482.0,259.7 483.5,262.3 485.0,265.5 486.5,268.0 488.0,269.3 489.4,270.2 490.9,274.9 492.4,281.5 493.9,289.8 495.4,296.9 496.9,299.6 498.3,295.3 499.8,287.6 501.3,280.8 502.8,273.4 504.3,270.3 505.8,272.3 507.2,270.6 508.7,269.3 510.2,267.1 511.7,263.8 513.2,264.8 514.7,262.9 516.1,265.5 517.6,266.8 519.1,265.6 520.6,268.8 522.1,267.8 523.6,268.3 525.0,272.0 526.5,268.1 528.0,265.2 529.5,261.5 531.0,253.9 532.5,247.7 533.9,244.7 535.4,244.6 536.9,243.1 538.4,241.7 539.9,243.3 541.4,244.4 542.8,245.3 544.3,246.1 545.8,250.2 547.3,255.4 548.8,260.5 550.3,260.0 551.7,256.7 553.2,254.8 554.7,254.4 556.2,254.8 557.7,256.0 559.1,255.9" fill="none" stroke="#83d0d8" stroke-width="4" stroke-linejoin="bevel"/>
<polyline points="562.1,253.3 563.6,249.5 565.1,241.6 566.6,240.8 568.1,239.0 569.5,236.0 571.0,234.8 572.5,233.3 574.0,228.9 575.5,224.7 577.0,220.5 578.4,220.6 579.9,218.3 581.4,215.6 582.9,215.4 584.4,215.4 585.9,212.8 587.3,216.9 588.8,219.6 590.3,223.7 591.8,225.1 593.3,226.6 594.8,224.8 596.2,221.9 597.7,222.2 599.2,223.0 600.7,226.1 602.2,222.7 603.7,220.2 605.1,222.5 606.6,226.4 608.1,227.3 609.6,226.9 611.1,224.9 612.6,224.4 614.0,226.9 615.5,226.2 617.0,222.3 618.5,225.7 620.0,232.3 621.5,234.6 622.9,236.4 624.4,237.7 625.9,240.0 627.4,242.7 628.9,243.5 630.4,246.7 631.8,244.2 633.3,244.6 634.8,240.0 636.3,239.2 637.8,237.4 639.3,239.5 640.7,238.6 642.2,233.2 643.7,233.7 645.2,232.4 646.7,229.6 648.2,226.2 649.6,224.3 651.1,224.8 652.6,227.0 654.1,224.6 655.6,223.7 657.1,221.1 658.5,221.3 660.0,221.1 661.5,223.8 663.0,229.1 664.5,231.8 666.0,234.9 667.4,237.1 668.9,240.7 670.4,241.2 671.9,235.6 673.4,235.0 674.9,232.0 676.3,233.9 677.8,233.4 679.3,239.8 680.8,242.5 682.3,242.9 683.8,241.9 685.2,240.9 686.7,243.2 688.2,244.8 689.7,245.9 691.2,247.0 692.7,249.1 694.1,253.9 695.6,255.4 697.1,258.8 698.6,259.6 700.1,258.4 701.6,261.2 703.0,262.6 704.5,259.3 706.0,262.7 707.5,262.6 709.0,261.0 710.5,259.9 711.9,255.6 713.4,255.1 714.9,251.9 716.4,250.3 717.9,247.7 719.4,248.3 720.8,252.4 722.3,260.7 723.8,261.4 725.3,260.4 726.8,258.9 728.3,258.6 729.7,257.9 731.2,254.9 732.7,257.0 734.2,255.2 735.7,255.4 737.2,256.5 738.7,256.1 740.1,253.8 741.6,253.2 743.1,253.6 744.6,255.2 746.1,256.7 747.6,258.2 749.0,257.8 750.5,259.0 752.0,249.9 753.5,250.8 755.0,253.5 756.5,248.1 757.9,244.1 759.4,239.5 760.9,239.4 762.4,241.1 763.9,240.4 765.4,239.2 766.8,239.9 768.3,240.0 769.8,242.2 771.3,241.8 772.8,247.0 774.3,250.7 775.7,258.4 777.2,261.1 778.7,263.1 780.2,265.7 781.7,271.0 783.2,276.5 784.6,274.4 786.1,273.3 787.6,270.1 789.1,267.2 790.6,266.0 792.1,263.7 793.5,260.7 795.0,259.1 796.5,260.9 798.0,265.3 799.5,267.4 801.0,269.6 802.4,271.4 803.9,271.2 805.4,272.6 806.9,273.8 808.4,276.3 809.9,275.2 811.3,274.6 812.8,274.2 814.3,273.6 815.8,277.8 817.3,277.7 818.8,275.2 820.2,279.4 821.7,279.1" fill="none" stroke="#83d0d8" stroke-width="4" stroke-linejoin="bevel"/>
<polyline points="824.7,281.1 826.2,280.3 827.7,277.6 829.1,281.5 830.6,283.0 832.1,287.8 833.6,291.2 835.1,293.5 836.6,299.4 838.0,304.6 839.5,299.3 841.0,297.3 842.5,294.1 844.0,293.1 845.5,292.9 846.9,291.8 848.4,289.9 849.9,287.2 851.4,284.9 852.9,288.9 854.4,289.4 855.8,291.4 857.3,290.9 858.8,289.9 860.3,292.1 861.8,293.4 863.3,292.2 864.7,292.8 866.2,295.0 867.7,292.9 869.2,293.8 870.7,296.8 872.2,299.3 873.6,300.0 875.1,301.4 876.6,302.4 878.1,308.7 879.6,310.6 881.1,313.9 882.5,316.7 884.0,314.2 885.5,313.0 887.0,308.3 888.5,311.9 890.0,314.8 891.4,316.5 892.9,318.9 894.4,322.3 895.9,324.1 897.4,324.7 898.9,324.5 900.3,325.4 901.8,326.2 903.3,322.4 904.8,316.4 906.3,311.8 907.7,315.0" fill="none" stroke="#83d0d8" stroke-width="4" stroke-linejoin="bevel"/>
<polyline points="910.7,316.0 912.2,317.7 913.7,321.6 915.2,323.8 916.7,325.5 918.1,328.7 919.6,329.9 921.1,333.1 922.6,333.1 924.1,331.9 925.6,331.8 927.0,333.0 928.5,335.6 930.0,335.9 931.5,333.9 933.0,331.8 934.5,325.0 935.9,324.6 937.4,328.2 938.9,332.8 940.4,337.2 941.9,342.2 943.4,342.0 944.8,341.7 946.3,335.0 947.8,327.2 949.3,322.7 950.8,311.9 952.3,309.1 953.7,308.0 955.2,304.4 956.7,303.9 958.2,301.8 959.7,300.4 961.2,299.2 962.6,299.3 964.1,298.1 965.6,296.8 967.1,296.0 968.6,296.8 970.1,297.4 971.5,293.0 973.0,292.5 974.5,292.5 976.0,293.5 977.5,291.8 979.0,290.8 980.4,292.2 981.9,294.7 983.4,292.5 984.9,294.1 986.4,297.0 987.9,299.0 989.3,298.9 990.8,300.2 992.3,298.3" fill="none" stroke="#83d0d8" stroke-width="4" stroke-linejoin="bevel"/>
<polyline points="995.5,292.0 996.8,294.7 998.3,297.0 999.7,297.4 1001.2,299.9 1002.7,302.1 1004.2,303.2 1005.7,297.1 1007.2,296.1 1008.6,296.6 1010.1,296.5 1011.6,299.0 1013.1,300.6 1014.6,301.5 1016.1,300.4 1017.5,296.2 1019.0,294.1 1020.5,288.5 1022.0,288.0 1023.5,285.5 1025.0,285.2 1026.4,285.3 1027.9,282.8 1029.4,282.9 1030.9,282.3 1032.4,280.6 1033.9,280.9 1035.3,281.3 1036.8,280.6 1038.3,278.3 1039.8,280.2 1041.3,281.6 1042.8,284.9 1044.2,288.2 1045.7,286.3 1047.2,287.6 1048.7,290.1 1050.2,289.8 1051.7,289.4 1053.1,289.4 1054.6,291.2 1056.1,293.8 1057.6,295.0 1059.1,297.6 1060.6,295.6 1062.0,296.2 1063.5,297.8 1065.0,299.3 1066.5,299.8 1068.0,298.8 1069.5,301.6 1070.9,304.2 1072.4,305.3 1073.9,304.4 1075.4,305.4 1076.9,305.2" fill="none" stroke="#83d0d8" stroke-width="4" stroke-linejoin="bevel"/>
<polyline points="1080.1,305.1 1081.3,306.0 1082.8,308.3 1084.3,309.2 1085.8,308.8 1087.3,314.6 1088.7,310.3 1090.2,308.7 1091.7,308.1 1093.2,307.2 1094.7,303.6 1096.2,303.5 1097.6,301.9 1099.1,299.3 1100.6,299.0 1102.1,309.7 1103.6,311.0 1105.1,313.1 1106.5,313.8 1108.0,312.0 1109.5,312.0 1111.0,311.4 1112.5,310.6 1114.0,315.1 1115.4,316.2 1116.9,323.2 1118.4,321.6 1119.9,322.2 1121.4,322.4 1122.9,324.8 1124.3,326.3 1125.8,324.5 1127.3,323.9 1128.8,323.4 1130.3,324.0 1131.8,324.3 1133.2,324.7 1134.7,324.5 1136.2,326.1 1137.7,328.6 1139.2,328.0 1140.7,331.6 1142.1,330.1 1143.6,332.4 1145.1,332.8 1146.6,334.5 1148.1,335.3 1149.6,338.4 1151.0,339.0 1152.5,339.1 1154.0,343.0 1155.5,341.9 1157.0,345.7 1158.5,346.4 1159.9,343.5 1161.4,340.8 1162.9,339.0 1164.4,325.8 1165.9,301.1 1167.4,274.4 1168.8,244.3 1170.3,207.0 1171.8,207.9 1173.3,240.4 1174.8,240.0 1176.3,252.3 1177.7,255.4 1179.2,258.0 1180.7,260.9 1182.2,263.8 1183.7,250.2 1185.2,246.7 1186.6,246.3 1188.1,243.9 1189.6,242.4 1191.1,244.6 1192.6,246.4 1194.1,250.5 1195.5,252.2 1197.0,249.5 1198.5,245.2 1200.0,237.3 1201.5,232.4 1203.0,222.2 1204.4,222.4 1205.9,223.9 1207.4,226.3 1208.9,230.6 1210.4,236.3 1211.9,242.0 1213.3,241.6 1214.8,240.8 1216.3,242.0 1217.8,250.3 1219.3,258.1 1220.8,256.9 1222.2,255.8 1223.7,252.5 1225.2,250.5 1226.7,247.9 1228.2,245.8 1229.7,248.5 1231.1,248.1 1232.6,246.1 1234.1,242.2 1235.6,243.0 1237.1,240.3 1238.6,237.4 1240.0,243.9 1241.5,248.5 1243.0,247.9 1244.5,247.5 1246.0,246.9 1247.5,244.9 1248.9,245.5 1250.4,243.7 1251.9,242.4 1253.4,239.7 1254.9,242.1 1256.4,244.9 1257.9,255.0 1259.3,265.4 1260.8,267.4 1262.3,268.6 1263.8,266.9 1265.3,266.2 1266.8,270.1 1268.2,272.1 1269.7,265.0 1271.2,263.0 1272.7,264.3 1274.2,261.9 1275.7,260.4 1277.1,262.9 1278.6,262.7 1280.1,264.2 1281.6,261.7 1283.1,260.6 1284.6,264.1 1286.0,260.0 1287.5,255.3 1289.0,254.1 1290.5,251.8 1292.0,252.4 1293.5,248.7 1294.9,247.9 1296.4,247.7 1297.9,246.9 1299.4,247.1 1300.9,244.7 1302.4,243.3 1303.8,243.5 1305.3,245.7 1306.8,246.4 1308.3,251.8 1309.8,250.9 1311.3,251.8 1312.7,249.8 1314.2,247.3 1315.7,246.5 1317.2,247.9 1318.7,248.9 1320.2,249.1 1321.6,247.2 1323.1,241.8 1324.6,240.7 1326.1,239.7 1327.6,237.9 1329.1,242.8 1330.5,246.0 1332.0,248.1 1333.5,248.1 1335.0,249.7 1336.5,249.1 1338.0,250.6 1339.4,251.9 1340.9,254.6 1342.4,280.3 1343.9,290.2 1345.4,285.9 1346.9,279.8 1348.3,272.5 1349.8,271.6 1351.3,270.6 1352.8,267.6 1354.3,268.7 1355.8,268.3 1357.2,268.1 1358.7,267.6 1360.2,267.7 1361.7,266.6 1363.2,266.8 1364.7,266.3 1366.1,264.4 1367.6,265.2 1369.1,261.5 1370.6,260.3 1372.1,255.6 1373.6,255.2 1375.0,254.7 1376.5,249.9 1378.0,248.7 1379.5,251.0 1381.0,251.3 1382.5,250.3 1383.9,249.5 1385.4,250.0 1386.9,252.3 1388.4,255.2 1389.9,257.4 1391.4,258.7 1392.8,260.7 1394.3,258.6 1395.8,260.0 1397.3,256.5 1398.8,256.9 1400.3,256.5 1401.7,255.4 1403.2,256.2 1404.7,253.8 1406.2,253.8 1407.7,252.5 1409.2,256.6 1410.6,254.7 1412.1,257.6 1413.6,258.4 1415.1,258.7 1416.6,255.3 1418.1,253.2 1419.5,246.0 1421.0,246.3 1422.5,249.2 1424.0,247.9 1425.5,248.1 1427.0,244.4 1428.4,243.5 1429.9,242.6 1431.4,242.7 1432.9,240.0 1434.4,237.2 1435.9,238.8 1437.3,239.3 1438.8,238.6 1440.3,235.2 1441.8,233.4 1443.3,228.0 1444.8,225.3 1446.2,225.4 1447.7,221.5 1449.2,221.0 1450.7,219.2 1452.2,219.1 1453.7,219.6 1455.1,222.0 1456.6,226.8 1458.1,230.8 1459.6,231.1 1461.1,227.7 1462.6,227.8 1464.0,227.0 1465.5,223.6 1467.0,221.6 1468.5,218.4 1470.0,216.0 1471.5,214.7 1472.9,213.6 1474.4,212.2 1475.9,208.5 1477.4,204.7 1478.9,191.6 1480.4,181.9 1481.8,179.8 1483.3,182.2 1484.8,186.8 1486.3,176.0 1487.8,173.5 1489.3,177.6 1490.7,179.8 1492.2,186.2 1493.7,185.5 1495.2,186.2 1496.7,182.1 1498.2,171.7 1499.6,171.9 1501.1,169.9 1502.6,172.7 1504.1,171.6 1505.6,171.1 1507.1,171.2 1508.5,169.3 1510.0,166.9 1511.5,168.1 1513.0,166.3 1514.5,166.3 1516.0,161.7 1517.5,157.4 1518.9,150.4 1520.4,156.1 1521.9,166.3 1523.4,163.4 1524.9,163.4 1526.4,163.3 1527.8,165.3 1529.3,169.6 1530.8,167.2 1532.3,163.6 1533.8,159.1 1535.3,155.9" fill="none" stroke="#83d0d8" stroke-width="4" stroke-linejoin="bevel"/>
<circle cx="215.0" cy="120.5" r="3.8" fill="#fff" stroke="#83d0d8" stroke-width="1.8"/>
<circle cx="252.1" cy="163.2" r="3.8" fill="#fff" stroke="#83d0d8" stroke-width="1.8"/>
<circle cx="289.2" cy="204.4" r="3.8" fill="#fff" stroke="#83d0d8" stroke-width="1.8"/>
<circle cx="326.3" cy="238.0" r="3.8" fill="#fff" stroke="#83d0d8" stroke-width="1.8"/>
<circle cx="363.3" cy="214.1" r="3.8" fill="#fff" stroke="#83d0d8" stroke-width="1.8"/>
<circle cx="400.4" cy="204.9" r="3.8" fill="#fff" stroke="#83d0d8" stroke-width="1.8"/>
<circle cx="437.5" cy="228.8" r="3.8" fill="#fff" stroke="#83d0d8" stroke-width="1.8"/>
<circle cx="474.6" cy="262.8" r="3.8" fill="#fff" stroke="#83d0d8" stroke-width="1.8"/>
<circle cx="511.7" cy="265.1" r="3.8" fill="#fff" stroke="#83d0d8" stroke-width="1.8"/>
<circle cx="548.8" cy="261.2" r="3.8" fill="#fff" stroke="#83d0d8" stroke-width="1.8"/>
<circle cx="585.9" cy="213.9" r="3.8" fill="#fff" stroke="#83d0d8" stroke-width="1.8"/>
<circle cx="622.9" cy="236.9" r="3.8" fill="#fff" stroke="#83d0d8" stroke-width="1.8"/>
<circle cx="660.0" cy="220.1" r="3.8" fill="#fff" stroke="#83d0d8" stroke-width="1.8"/>
<circle cx="697.1" cy="258.0" r="3.8" fill="#fff" stroke="#83d0d8" stroke-width="1.8"/>
<circle cx="734.2" cy="255.8" r="3.8" fill="#fff" stroke="#83d0d8" stroke-width="1.8"/>
<circle cx="771.3" cy="242.1" r="3.8" fill="#fff" stroke="#83d0d8" stroke-width="1.8"/>
<circle cx="808.4" cy="275.7" r="3.8" fill="#fff" stroke="#83d0d8" stroke-width="1.8"/>
<circle cx="845.5" cy="292.0" r="3.8" fill="#fff" stroke="#83d0d8" stroke-width="1.8"/>
<circle cx="882.5" cy="316.2" r="3.8" fill="#fff" stroke="#83d0d8" stroke-width="1.8"/>
<circle cx="919.6" cy="331.4" r="3.8" fill="#fff" stroke="#83d0d8" stroke-width="1.8"/>
<circle cx="956.7" cy="303.8" r="3.8" fill="#fff" stroke="#83d0d8" stroke-width="1.8"/>
<circle cx="1030.9" cy="282.0" r="3.8" fill="#fff" stroke="#83d0d8" stroke-width="1.8"/>
<circle cx="1068.0" cy="298.7" r="3.8" fill="#fff" stroke="#83d0d8" stroke-width="1.8"/>
<circle cx="1105.1" cy="313.0" r="3.8" fill="#fff" stroke="#83d0d8" stroke-width="1.8"/>
<circle cx="1142.1" cy="331.3" r="3.8" fill="#fff" stroke="#83d0d8" stroke-width="1.8"/>
<circle cx="1179.2" cy="258.5" r="3.8" fill="#fff" stroke="#83d0d8" stroke-width="1.8"/>
<circle cx="1216.3" cy="241.1" r="3.8" fill="#fff" stroke="#83d0d8" stroke-width="1.8"/>
<circle cx="1253.4" cy="240.6" r="3.8" fill="#fff" stroke="#83d0d8" stroke-width="1.8"/>
<circle cx="1290.5" cy="253.8" r="3.8" fill="#fff" stroke="#83d0d8" stroke-width="1.8"/>
<circle cx="1327.6" cy="238.2" r="3.8" fill="#fff" stroke="#83d0d8" stroke-width="1.8"/>
<circle cx="1364.7" cy="266.2" r="3.8" fill="#fff" stroke="#83d0d8" stroke-width="1.8"/>
<circle cx="1401.7" cy="255.5" r="3.8" fill="#fff" stroke="#83d0d8" stroke-width="1.8"/>
<circle cx="1438.8" cy="236.7" r="3.8" fill="#fff" stroke="#83d0d8" stroke-width="1.8"/>
<circle cx="1475.9" cy="208.7" r="3.8" fill="#fff" stroke="#83d0d8" stroke-width="1.8"/>
<circle cx="1513.0" cy="166.6" r="3.8" fill="#fff" stroke="#83d0d8" stroke-width="1.8"/>
<circle cx="1535.5" cy="155.5" r="3.8" fill="#fff" stroke="#83d0d8" stroke-width="1.8"/>
<polyline points="215.0,120.5 216.5,131.9 218.0,142.0 219.5,151.9 220.9,155.0 222.4,159.7 223.9,153.5 225.4,151.8 226.9,151.7 228.4,150.0 229.8,149.1 231.3,151.0 232.8,153.7 234.3,160.2 235.8,162.2 237.3,166.9 238.7,174.4 240.2,176.8 241.7,183.5 243.2,188.4 244.7,188.6 246.2,192.2 247.6,193.0 249.1,199.2 250.6,201.7 252.1,190.9 253.6,188.8 255.1,186.5 256.5,187.3 258.0,189.1 259.5,191.2 261.0,186.1 262.5,185.7 264.0,179.5 265.4,177.9 266.9,179.2 268.4,182.4 269.9,189.8 271.4,200.1 272.9,206.2 274.3,209.7 275.8,220.1 277.3,221.1 278.8,229.4 280.3,251.1 281.8,228.9 283.2,224.2 284.7,222.1 286.2,219.2 287.7,218.6 289.2,218.0 290.7,222.6 292.1,228.1 293.6,232.0 295.1,238.1 296.6,225.7 298.1,224.5 299.6,232.0 301.0,242.1 302.5,248.5 304.0,256.7 305.5,259.3 307.0,260.0 308.5,254.8 309.9,256.2 311.4,258.0 312.9,266.1 314.4,269.9 315.9,285.7 317.4,305.8 318.8,305.7 320.3,308.0 321.8,285.5 323.3,281.9 324.8,275.5 326.3,271.6 327.7,275.2 329.2,276.5 330.7,278.7 332.2,265.7 333.7,264.4 335.2,262.2 336.6,261.2 338.1,257.8 339.6,255.3 341.1,251.1 342.6,247.8 344.1,261.7 345.5,263.6 347.0,260.9 348.5,255.2 350.0,250.0 351.5,245.2 353.0,245.5 354.4,230.0 355.9,228.4 357.4,222.8 358.9,221.0 360.4,221.7 361.9,221.1 363.3,221.5 364.8,217.9 366.3,216.8 367.8,214.5 369.3,204.8 370.8,206.8 372.2,207.7 373.7,206.8 375.2,199.5 376.7,192.3 378.2,182.5 379.7,184.6 381.1,191.7 382.6,185.7 384.1,181.8 385.6,180.9 387.1,181.0 388.6,180.0 390.0,183.2 391.5,192.2 393.0,200.0 394.5,201.7 396.0,201.0 397.5,201.9 398.9,198.5 400.4,198.0 401.9,197.1 403.4,199.1 404.9,201.2 406.4,200.3 407.8,198.5 409.3,197.3 410.8,198.6 412.3,199.0 413.8,204.2 415.3,207.8 416.7,210.9 418.2,205.6 419.7,203.0 421.2,200.9 422.7,201.8 424.2,199.3 425.6,199.7 427.1,196.4 428.6,196.0 430.1,196.3 431.6,193.5 433.1,195.2 434.5,198.4 436.0,203.5 437.5,213.3 439.0,213.7 440.5,213.5 442.0,215.3 443.4,221.4 444.9,227.2 446.4,228.1 447.9,226.6 449.4,229.3 450.9,220.6 452.3,220.7 453.8,221.2 455.3,223.4 456.8,229.4 458.3,234.3 459.8,242.0 461.2,243.5 462.7,246.5 464.2,247.7 465.7,251.3 467.2,248.4 468.7,248.4 470.1,253.4 471.6,258.4 473.1,258.5 474.6,261.7 476.1,274.4 477.6,267.9 479.1,263.4 480.5,249.2 482.0,250.3 483.5,249.0 485.0,251.5 486.5,255.1 488.0,259.1 489.4,258.9 490.9,258.6 492.4,264.1 493.9,269.4 495.4,273.0 496.9,274.4 498.3,265.6 499.8,259.2 501.3,249.6 502.8,244.4 504.3,245.0 505.8,246.1 507.2,251.7 508.7,252.1 510.2,252.6 511.7,253.2 513.2,251.2 514.7,246.4 516.1,249.1 517.6,252.5 519.1,256.5 520.6,257.2 522.1,260.7 523.6,261.2 525.0,263.9 526.5,262.0 528.0,258.5 529.5,256.2 531.0,255.2 532.5,254.4 533.9,253.3 535.4,251.3 536.9,251.4 538.4,249.0 539.9,250.8 541.4,251.9 542.8,257.5 544.3,257.8 545.8,265.4 547.3,268.3 548.8,270.5 550.3,270.2 551.7,273.4 553.2,269.7 554.7,267.1 556.2,262.0 557.7,263.1 559.1,262.0" fill="none" stroke="#9e9e9e" stroke-width="4" stroke-linejoin="bevel"/>
<polyline points="562.1,258.3 563.6,256.2 565.1,251.3 566.6,248.1 568.1,246.1 569.5,244.6 571.0,245.8 572.5,243.6 574.0,240.5 575.5,239.1 577.0,238.1 578.4,232.8 579.9,229.7 581.4,228.7 582.9,226.5 584.4,223.1 585.9,223.4 587.3,224.3 588.8,227.3 590.3,230.5 591.8,232.2 593.3,229.2 594.8,229.9 596.2,228.5 597.7,227.7 599.2,232.0 600.7,231.6 602.2,240.3 603.7,239.0 605.1,236.9 606.6,238.2 608.1,238.0 609.6,242.0 611.1,240.1 612.6,238.8 614.0,240.3 615.5,240.2 617.0,242.2 618.5,242.6 620.0,245.7 621.5,248.1 622.9,250.1 624.4,252.1 625.9,255.2 627.4,256.4 628.9,259.4 630.4,263.9 631.8,266.6 633.3,263.4 634.8,260.2 636.3,258.5 637.8,256.1 639.3,257.3 640.7,257.1 642.2,255.2 643.7,252.2 645.2,251.1 646.7,250.5 648.2,248.9 649.6,244.3 651.1,245.2 652.6,246.2 654.1,247.3 655.6,246.7 657.1,246.5 658.5,244.9 660.0,244.7 661.5,247.6 663.0,248.5 664.5,254.0 666.0,261.1 667.4,270.7 668.9,268.4 670.4,267.6 671.9,265.6 673.4,265.8 674.9,270.1 676.3,272.5 677.8,273.0 679.3,276.3 680.8,277.7 682.3,276.6 683.8,275.6 685.2,273.9 686.7,274.0 688.2,275.1 689.7,273.7 691.2,274.3 692.7,277.0 694.1,276.8 695.6,276.9 697.1,276.6 698.6,279.5 700.1,282.2 701.6,279.8 703.0,280.6 704.5,283.9 706.0,282.9 707.5,285.1 709.0,288.3 710.5,285.3 711.9,283.8 713.4,280.7 714.9,278.2 716.4,272.9 717.9,269.0 719.4,267.9 720.8,270.6 722.3,275.0 723.8,279.2 725.3,279.3 726.8,278.5 728.3,276.6 729.7,275.5 731.2,277.6 732.7,278.6 734.2,275.1 735.7,277.3 737.2,278.2 738.7,279.0 740.1,277.3 741.6,277.6 743.1,275.4 744.6,281.5 746.1,283.2 747.6,283.5 749.0,287.1 750.5,286.8 752.0,286.7 753.5,285.0 755.0,281.6 756.5,280.7 757.9,279.0 759.4,281.5 760.9,281.7 762.4,277.8 763.9,278.5 765.4,279.8 766.8,283.0 768.3,283.4 769.8,283.2 771.3,283.9 772.8,286.7 774.3,288.0 775.7,294.9 777.2,296.7 778.7,301.6 780.2,305.4 781.7,310.0 783.2,310.4 784.6,311.2 786.1,313.7 787.6,308.9 789.1,308.2 790.6,300.5 792.1,301.2 793.5,299.1 795.0,301.0 796.5,300.7 798.0,302.6 799.5,306.1 801.0,304.5 802.4,303.8 803.9,305.0 805.4,309.5 806.9,310.7 808.4,310.6 809.9,312.6 811.3,313.8 812.8,316.9 814.3,314.7 815.8,313.2 817.3,310.9 818.8,311.5 820.2,311.5 821.7,311.8" fill="none" stroke="#9e9e9e" stroke-width="4" stroke-linejoin="bevel"/>
<polyline points="824.7,312.5 826.2,311.1 827.7,310.9 829.1,310.9 830.6,315.0 832.1,316.1 833.6,321.5 835.1,326.7 836.6,332.3 838.0,337.6 839.5,334.1 841.0,330.4 842.5,324.1 844.0,320.3 845.5,316.4 846.9,320.0 848.4,324.3 849.9,319.3 851.4,315.8 852.9,313.7 854.4,312.9 855.8,313.1 857.3,314.6 858.8,315.0 860.3,315.3 861.8,313.0 863.3,314.6 864.7,314.2 866.2,314.7 867.7,316.2 869.2,318.7 870.7,318.7 872.2,317.4 873.6,319.2 875.1,319.7 876.6,322.0 878.1,323.4 879.6,325.5 881.1,328.5 882.5,331.2 884.0,330.4 885.5,330.3 887.0,327.8 888.5,329.1 890.0,330.0 891.4,332.3 892.9,335.0 894.4,338.0 895.9,339.1 897.4,341.5 898.9,340.8 900.3,342.4 901.8,342.2 903.3,341.0 904.8,342.4 906.3,338.2 907.7,332.8" fill="none" stroke="#9e9e9e" stroke-width="4" stroke-linejoin="bevel"/>
<polyline points="910.7,337.0 912.2,341.5 913.7,344.3 915.2,347.9 916.7,348.6 918.1,352.3 919.6,355.1 921.1,354.5 922.6,355.4 924.1,357.9 925.6,359.8 927.0,361.2 928.5,365.0 930.0,372.7 931.5,371.1 933.0,370.1 934.5,365.1 935.9,370.3 937.4,374.8 938.9,382.9 940.4,386.7 941.9,395.5 943.4,396.9 944.8,397.5 946.3,389.8 947.8,384.3 949.3,380.3 950.8,368.8 952.3,366.6 953.7,362.2 955.2,361.6 956.7,359.8 958.2,356.6 959.7,355.4 961.2,351.9 962.6,349.0 964.1,348.5 965.6,348.1 967.1,351.8 968.6,349.7 970.1,347.5 971.5,342.5 973.0,341.6 974.5,339.6 976.0,337.6 977.5,337.7 979.0,335.5 980.4,335.9 981.9,336.9 983.4,340.2 984.9,344.2 986.4,343.6 987.9,346.0 989.3,350.8 990.8,350.1 992.3,346.2" fill="none" stroke="#9e9e9e" stroke-width="4" stroke-linejoin="bevel"/>
<polyline points="995.5,340.8 996.8,343.2 998.3,342.6 999.7,343.9 1001.2,345.5 1002.7,346.7 1004.2,348.9 1005.7,348.6 1007.2,353.5 1008.6,350.2 1010.1,348.1 1011.6,349.1 1013.1,352.3 1014.6,350.3 1016.1,349.1 1017.5,344.7 1019.0,339.2 1020.5,335.3 1022.0,328.1 1023.5,329.1 1025.0,327.4 1026.4,327.6 1027.9,328.1 1029.4,326.6 1030.9,327.4 1032.4,330.0 1033.9,328.5 1035.3,326.1 1036.8,325.8 1038.3,329.3 1039.8,329.6 1041.3,331.4 1042.8,335.0 1044.2,336.6 1045.7,337.7 1047.2,338.7 1048.7,339.4 1050.2,337.0 1051.7,338.1 1053.1,337.0 1054.6,338.5 1056.1,338.5 1057.6,339.5 1059.1,341.4 1060.6,343.2 1062.0,342.4 1063.5,339.6 1065.0,341.5 1066.5,342.2 1068.0,343.8 1069.5,343.7 1070.9,348.1 1072.4,350.1 1073.9,353.2 1075.4,355.5 1076.9,354.5" fill="none" stroke="#9e9e9e" stroke-width="4" stroke-linejoin="bevel"/>
<polyline points="1080.1,356.3 1081.3,357.0 1082.8,360.3 1084.3,359.7 1085.8,362.2 1087.3,362.7 1088.7,359.4 1090.2,355.7 1091.7,357.3 1093.2,357.0 1094.7,356.1 1096.2,357.3 1097.6,355.6 1099.1,355.9 1100.6,354.5 1102.1,362.9 1103.6,366.7 1105.1,369.0 1106.5,370.5 1108.0,371.1 1109.5,368.4 1111.0,367.7 1112.5,367.3 1114.0,371.7 1115.4,372.9 1116.9,373.5 1118.4,373.4 1119.9,375.3 1121.4,374.9 1122.9,375.2 1124.3,376.3 1125.8,377.3 1127.3,378.0 1128.8,378.2 1130.3,378.7 1131.8,380.7 1133.2,381.5 1134.7,382.2 1136.2,382.3 1137.7,384.0 1139.2,383.2 1140.7,381.6 1142.1,382.9 1143.6,379.9 1145.1,379.0 1146.6,380.6 1148.1,382.5 1149.6,385.6 1151.0,386.5 1152.5,386.5 1154.0,388.3 1155.5,389.1 1157.0,389.0 1158.5,389.7 1159.9,390.3 1161.4,387.4 1162.9,388.1 1164.4,380.4 1165.9,372.9 1167.4,359.4 1168.8,324.5 1170.3,306.0 1171.8,285.7 1173.3,306.3 1174.8,320.1 1176.3,324.2 1177.7,325.7 1179.2,325.4 1180.7,320.8 1182.2,318.5 1183.7,315.2 1185.2,314.6 1186.6,313.1 1188.1,310.2 1189.6,310.7 1191.1,309.7 1192.6,312.9 1194.1,315.2 1195.5,318.7 1197.0,315.1 1198.5,310.2 1200.0,307.8 1201.5,301.5 1203.0,299.0 1204.4,297.5 1205.9,295.3 1207.4,298.4 1208.9,300.0 1210.4,305.1 1211.9,307.8 1213.3,316.0 1214.8,314.0 1216.3,312.2 1217.8,319.3 1219.3,324.8 1220.8,324.4 1222.2,322.8 1223.7,319.1 1225.2,315.7 1226.7,316.1 1228.2,313.8 1229.7,317.4 1231.1,313.9 1232.6,312.4 1234.1,311.3 1235.6,310.7 1237.1,308.5 1238.6,306.5 1240.0,311.2 1241.5,315.7 1243.0,316.6 1244.5,317.5 1246.0,318.2 1247.5,317.2 1248.9,319.1 1250.4,318.1 1251.9,315.8 1253.4,315.3 1254.9,318.5 1256.4,321.6 1257.9,328.1 1259.3,332.1 1260.8,335.7 1262.3,335.3 1263.8,336.2 1265.3,338.6 1266.8,337.8 1268.2,332.0 1269.7,330.7 1271.2,327.8 1272.7,330.1 1274.2,330.8 1275.7,322.7 1277.1,323.6 1278.6,324.7 1280.1,324.3 1281.6,323.2 1283.1,322.2 1284.6,319.4 1286.0,317.3 1287.5,315.8 1289.0,313.7 1290.5,311.3 1292.0,310.4 1293.5,308.7 1294.9,305.7 1296.4,306.5 1297.9,302.0 1299.4,301.3 1300.9,293.5 1302.4,292.9 1303.8,290.9 1305.3,292.9 1306.8,290.5 1308.3,301.3 1309.8,300.6 1311.3,300.8 1312.7,295.2 1314.2,294.5 1315.7,292.3 1317.2,293.0 1318.7,294.3 1320.2,295.8 1321.6,296.9 1323.1,290.5 1324.6,287.8 1326.1,287.1 1327.6,287.8 1329.1,290.5 1330.5,293.7 1332.0,298.0 1333.5,298.3 1335.0,298.2 1336.5,298.8 1338.0,297.9 1339.4,296.7 1340.9,298.2 1342.4,299.8 1343.9,343.2 1345.4,334.7 1346.9,322.3 1348.3,321.4 1349.8,318.8 1351.3,319.9 1352.8,319.9 1354.3,322.1 1355.8,320.7 1357.2,318.8 1358.7,318.7 1360.2,316.2 1361.7,318.2 1363.2,317.9 1364.7,317.6 1366.1,314.4 1367.6,312.1 1369.1,311.9 1370.6,309.9 1372.1,309.0 1373.6,307.4 1375.0,307.5 1376.5,307.6 1378.0,306.8 1379.5,308.5 1381.0,309.5 1382.5,306.9 1383.9,305.6 1385.4,304.2 1386.9,307.1 1388.4,307.5 1389.9,309.7 1391.4,312.8 1392.8,309.5 1394.3,307.1 1395.8,306.7 1397.3,304.3 1398.8,304.4 1400.3,304.2 1401.7,300.4 1403.2,300.7 1404.7,300.0 1406.2,298.0 1407.7,296.0 1409.2,297.3 1410.6,299.5 1412.1,302.1 1413.6,305.2 1415.1,307.7 1416.6,305.9 1418.1,298.8 1419.5,299.2 1421.0,296.7 1422.5,294.3 1424.0,292.7 1425.5,291.5 1427.0,291.1 1428.4,290.4 1429.9,289.9 1431.4,289.0 1432.9,290.0 1434.4,288.3 1435.9,286.1 1437.3,285.9 1438.8,284.2 1440.3,278.0 1441.8,275.7 1443.3,269.3 1444.8,269.3 1446.2,267.4 1447.7,264.2 1449.2,264.1 1450.7,258.7 1452.2,257.4 1453.7,252.8 1455.1,256.0 1456.6,260.5 1458.1,261.4 1459.6,260.6 1461.1,259.3 1462.6,257.8 1464.0,255.9 1465.5,250.6 1467.0,247.9 1468.5,244.5 1470.0,241.5 1471.5,239.4 1472.9,236.3 1474.4,233.2 1475.9,231.1 1477.4,227.7 1478.9,220.4 1480.4,217.8 1481.8,215.6 1483.3,212.1 1484.8,215.0 1486.3,199.2 1487.8,194.4 1489.3,207.1 1490.7,211.4 1492.2,217.5 1493.7,204.7 1495.2,200.9 1496.7,199.8 1498.2,191.0 1499.6,191.5 1501.1,188.8 1502.6,187.3 1504.1,186.3 1505.6,184.5 1507.1,183.2 1508.5,180.3 1510.0,177.6 1511.5,176.9 1513.0,176.0 1514.5,178.0 1516.0,175.2 1517.5,172.3 1518.9,164.0 1520.4,178.1 1521.9,188.8 1523.4,191.6 1524.9,194.2 1526.4,191.5 1527.8,199.2 1529.3,191.2 1530.8,189.6 1532.3,189.1 1533.8,192.0" fill="none" stroke="#9e9e9e" stroke-width="4" stroke-linejoin="bevel"/>
<circle cx="215.0" cy="120.5" r="3.8" fill="#fff" stroke="#9e9e9e" stroke-width="1.8"/>
<circle cx="252.1" cy="193.1" r="3.8" fill="#fff" stroke="#9e9e9e" stroke-width="1.8"/>
<circle cx="289.2" cy="217.9" r="3.8" fill="#fff" stroke="#9e9e9e" stroke-width="1.8"/>
<circle cx="326.3" cy="272.0" r="3.8" fill="#fff" stroke="#9e9e9e" stroke-width="1.8"/>
<circle cx="363.3" cy="220.1" r="3.8" fill="#fff" stroke="#9e9e9e" stroke-width="1.8"/>
<circle cx="400.4" cy="197.8" r="3.8" fill="#fff" stroke="#9e9e9e" stroke-width="1.8"/>
<circle cx="437.5" cy="212.5" r="3.8" fill="#fff" stroke="#9e9e9e" stroke-width="1.8"/>
<circle cx="474.6" cy="261.9" r="3.8" fill="#fff" stroke="#9e9e9e" stroke-width="1.8"/>
<circle cx="511.7" cy="253.0" r="3.8" fill="#fff" stroke="#9e9e9e" stroke-width="1.8"/>
<circle cx="548.8" cy="270.0" r="3.8" fill="#fff" stroke="#9e9e9e" stroke-width="1.8"/>
<circle cx="585.9" cy="222.7" r="3.8" fill="#fff" stroke="#9e9e9e" stroke-width="1.8"/>
<circle cx="622.9" cy="249.4" r="3.8" fill="#fff" stroke="#9e9e9e" stroke-width="1.8"/>
<circle cx="660.0" cy="245.0" r="3.8" fill="#fff" stroke="#9e9e9e" stroke-width="1.8"/>
<circle cx="697.1" cy="277.6" r="3.8" fill="#fff" stroke="#9e9e9e" stroke-width="1.8"/>
<circle cx="734.2" cy="275.5" r="3.8" fill="#fff" stroke="#9e9e9e" stroke-width="1.8"/>
<circle cx="771.3" cy="283.8" r="3.8" fill="#fff" stroke="#9e9e9e" stroke-width="1.8"/>
<circle cx="808.4" cy="311.4" r="3.8" fill="#fff" stroke="#9e9e9e" stroke-width="1.8"/>
<circle cx="845.5" cy="317.6" r="3.8" fill="#fff" stroke="#9e9e9e" stroke-width="1.8"/>
<circle cx="882.5" cy="331.2" r="3.8" fill="#fff" stroke="#9e9e9e" stroke-width="1.8"/>
<circle cx="919.6" cy="354.5" r="3.8" fill="#fff" stroke="#9e9e9e" stroke-width="1.8"/>
<circle cx="956.7" cy="358.8" r="3.8" fill="#fff" stroke="#9e9e9e" stroke-width="1.8"/>
<circle cx="1030.9" cy="329.4" r="3.8" fill="#fff" stroke="#9e9e9e" stroke-width="1.8"/>
<circle cx="1068.0" cy="343.2" r="3.8" fill="#fff" stroke="#9e9e9e" stroke-width="1.8"/>
<circle cx="1105.1" cy="370.0" r="3.8" fill="#fff" stroke="#9e9e9e" stroke-width="1.8"/>
<circle cx="1142.1" cy="381.9" r="3.8" fill="#fff" stroke="#9e9e9e" stroke-width="1.8"/>
<circle cx="1179.2" cy="325.3" r="3.8" fill="#fff" stroke="#9e9e9e" stroke-width="1.8"/>
<circle cx="1216.3" cy="311.6" r="3.8" fill="#fff" stroke="#9e9e9e" stroke-width="1.8"/>
<circle cx="1253.4" cy="315.5" r="3.8" fill="#fff" stroke="#9e9e9e" stroke-width="1.8"/>
<circle cx="1290.5" cy="312.5" r="3.8" fill="#fff" stroke="#9e9e9e" stroke-width="1.8"/>
<circle cx="1327.6" cy="287.0" r="3.8" fill="#fff" stroke="#9e9e9e" stroke-width="1.8"/>
<circle cx="1364.7" cy="316.7" r="3.8" fill="#fff" stroke="#9e9e9e" stroke-width="1.8"/>
<circle cx="1401.7" cy="302.0" r="3.8" fill="#fff" stroke="#9e9e9e" stroke-width="1.8"/>
<circle cx="1438.8" cy="283.5" r="3.8" fill="#fff" stroke="#9e9e9e" stroke-width="1.8"/>
<circle cx="1475.9" cy="230.5" r="3.8" fill="#fff" stroke="#9e9e9e" stroke-width="1.8"/>
<circle cx="1513.0" cy="175.5" r="3.8" fill="#fff" stroke="#9e9e9e" stroke-width="1.8"/>
<line x1="215.0" y1="120.0" x2="215.0" y2="498.0" stroke="#333" stroke-width="2"/>
<line x1="214.0" y1="121.0" x2="1538.0" y2="121.0" stroke="#333" stroke-width="2"/>
<line x1="215.00" y1="121.0" x2="215.00" y2="130.0" stroke="#333" stroke-width="2"/>
<line x1="253.00" y1="121.0" x2="253.00" y2="130.0" stroke="#333" stroke-width="2"/>
<line x1="289.00" y1="121.0" x2="289.00" y2="130.0" stroke="#333" stroke-width="2"/>
<line x1="327.00" y1="121.0" x2="327.00" y2="130.0" stroke="#333" stroke-width="2"/>
<line x1="363.00" y1="121.0" x2="363.00" y2="130.0" stroke="#333" stroke-width="2"/>
<line x1="401.00" y1="121.0" x2="401.00" y2="130.0" stroke="#333" stroke-width="2"/>
<line x1="437.00" y1="121.0" x2="437.00" y2="130.0" stroke="#333" stroke-width="2"/>
<line x1="475.00" y1="121.0" x2="475.00" y2="130.0" stroke="#333" stroke-width="2"/>
<line x1="511.00" y1="121.0" x2="511.00" y2="130.0" stroke="#333" stroke-width="2"/>
<line x1="549.00" y1="121.0" x2="549.00" y2="130.0" stroke="#333" stroke-width="2"/>
<line x1="585.00" y1="121.0" x2="585.00" y2="130.0" stroke="#333" stroke-width="2"/>
<line x1="623.00" y1="121.0" x2="623.00" y2="130.0" stroke="#333" stroke-width="2"/>
<line x1="661.00" y1="121.0" x2="661.00" y2="130.0" stroke="#333" stroke-width="2"/>
<line x1="697.00" y1="121.0" x2="697.00" y2="130.0" stroke="#333" stroke-width="2"/>
<line x1="735.00" y1="121.0" x2="735.00" y2="130.0" stroke="#333" stroke-width="2"/>
<line x1="771.00" y1="121.0" x2="771.00" y2="130.0" stroke="#333" stroke-width="2"/>
<line x1="809.00" y1="121.0" x2="809.00" y2="130.0" stroke="#333" stroke-width="2"/>
<line x1="845.00" y1="121.0" x2="845.00" y2="130.0" stroke="#333" stroke-width="2"/>
<line x1="883.00" y1="121.0" x2="883.00" y2="130.0" stroke="#333" stroke-width="2"/>
<line x1="919.00" y1="121.0" x2="919.00" y2="130.0" stroke="#333" stroke-width="2"/>
<line x1="957.00" y1="121.0" x2="957.00" y2="130.0" stroke="#333" stroke-width="2"/>
<line x1="993.00" y1="121.0" x2="993.00" y2="130.0" stroke="#333" stroke-width="2"/>
<line x1="1031.00" y1="121.0" x2="1031.00" y2="130.0" stroke="#333" stroke-width="2"/>
<line x1="1067.00" y1="121.0" x2="1067.00" y2="130.0" stroke="#333" stroke-width="2"/>
<line x1="1105.00" y1="121.0" x2="1105.00" y2="130.0" stroke="#333" stroke-width="2"/>
<line x1="1143.00" y1="121.0" x2="1143.00" y2="130.0" stroke="#333" stroke-width="2"/>
<line x1="1179.00" y1="121.0" x2="1179.00" y2="130.0" stroke="#333" stroke-width="2"/>
<line x1="1217.00" y1="121.0" x2="1217.00" y2="130.0" stroke="#333" stroke-width="2"/>
<line x1="1253.00" y1="121.0" x2="1253.00" y2="130.0" stroke="#333" stroke-width="2"/>
<line x1="1291.00" y1="121.0" x2="1291.00" y2="130.0" stroke="#333" stroke-width="2"/>
<line x1="1327.00" y1="121.0" x2="1327.00" y2="130.0" stroke="#333" stroke-width="2"/>
<line x1="1365.00" y1="121.0" x2="1365.00" y2="130.0" stroke="#333" stroke-width="2"/>
<line x1="1401.00" y1="121.0" x2="1401.00" y2="130.0" stroke="#333" stroke-width="2"/>
<line x1="1439.00" y1="121.0" x2="1439.00" y2="130.0" stroke="#333" stroke-width="2"/>
<line x1="1475.00" y1="121.0" x2="1475.00" y2="130.0" stroke="#333" stroke-width="2"/>
<line x1="1513.00" y1="121.0" x2="1513.00" y2="130.0" stroke="#333" stroke-width="2"/>
<line x1="1537.00" y1="121.0" x2="1537.00" y2="130.0" stroke="#333" stroke-width="2"/>
<line x1="204.0" y1="121.00" x2="215.0" y2="121.00" stroke="#333" stroke-width="2"/>
<text x="199.8" y="126.00" text-anchor="end" font-size="24" letter-spacing="1.1" fill="#333">0</text>
<line x1="204.0" y1="183.00" x2="215.0" y2="183.00" stroke="#333" stroke-width="2"/>
<text x="199.8" y="188.00" text-anchor="end" font-size="24" letter-spacing="1.1" fill="#333">-10</text>
<line x1="204.0" y1="247.00" x2="215.0" y2="247.00" stroke="#333" stroke-width="2"/>
<text x="199.8" y="252.00" text-anchor="end" font-size="24" letter-spacing="1.1" fill="#333">-20</text>
<line x1="204.0" y1="309.00" x2="215.0" y2="309.00" stroke="#333" stroke-width="2"/>
<text x="199.8" y="314.00" text-anchor="end" font-size="24" letter-spacing="1.1" fill="#333">-30</text>
<line x1="204.0" y1="371.00" x2="215.0" y2="371.00" stroke="#333" stroke-width="2"/>
<text x="199.8" y="376.00" text-anchor="end" font-size="24" letter-spacing="1.1" fill="#333">-40</text>
<line x1="204.0" y1="435.00" x2="215.0" y2="435.00" stroke="#333" stroke-width="2"/>
<text x="199.8" y="440.00" text-anchor="end" font-size="24" letter-spacing="1.1" fill="#333">-50</text>
<line x1="204.0" y1="497.00" x2="215.0" y2="497.00" stroke="#333" stroke-width="2"/>
<text x="199.8" y="502.00" text-anchor="end" font-size="24" letter-spacing="1.1" fill="#333">-60</text>
<circle cx="215.0" cy="120" r="4" fill="#fff" stroke="#9e9e9e" stroke-width="1.8"/>
<text transform="translate(152,162) rotate(-90) scale(0.8,1)" font-size="20" fill="#f00" text-anchor="middle" dy="7.2">%</text>
<text transform="translate(214.40,510.6) rotate(-60)" text-anchor="end" dy="8.5" font-size="24" letter-spacing="1.4" fill="#333">0</text>
<text transform="translate(251.43,510.6) rotate(-60)" text-anchor="end" dy="8.5" font-size="24" letter-spacing="1.4" fill="#333">2022-02-15</text>
<text transform="translate(288.46,510.6) rotate(-60)" text-anchor="end" dy="8.5" font-size="24" letter-spacing="1.4" fill="#333">2022-03-23</text>
<text transform="translate(325.49,510.6) rotate(-60)" text-anchor="end" dy="8.5" font-size="24" letter-spacing="1.4" fill="#333">2022-05-05</text>
<text transform="translate(362.52,510.6) rotate(-60)" text-anchor="end" dy="8.5" font-size="24" letter-spacing="1.4" fill="#333">2022-06-13</text>
<text transform="translate(399.55,510.6) rotate(-60)" text-anchor="end" dy="8.5" font-size="24" letter-spacing="1.4" fill="#333">2022-07-19</text>
<text transform="translate(436.58,510.6) rotate(-60)" text-anchor="end" dy="8.5" font-size="24" letter-spacing="1.4" fill="#333">2022-08-24</text>
<text transform="translate(473.62,510.6) rotate(-60)" text-anchor="end" dy="8.5" font-size="24" letter-spacing="1.4" fill="#333">2022-09-30</text>
<text transform="translate(510.65,510.6) rotate(-60)" text-anchor="end" dy="8.5" font-size="24" letter-spacing="1.4" fill="#333">2022-11-14</text>
<text transform="translate(547.68,510.6) rotate(-60)" text-anchor="end" dy="8.5" font-size="24" letter-spacing="1.4" fill="#333">2022-12-20</text>
<text transform="translate(584.71,510.6) rotate(-60)" text-anchor="end" dy="8.5" font-size="24" letter-spacing="1.4" fill="#333">2023-02-01</text>
<text transform="translate(621.74,510.6) rotate(-60)" text-anchor="end" dy="8.5" font-size="24" letter-spacing="1.4" fill="#333">2023-03-09</text>
<text transform="translate(658.77,510.6) rotate(-60)" text-anchor="end" dy="8.5" font-size="24" letter-spacing="1.4" fill="#333">2023-04-17</text>
<text transform="translate(695.80,510.6) rotate(-60)" text-anchor="end" dy="8.5" font-size="24" letter-spacing="1.4" fill="#333">2023-05-26</text>
<text transform="translate(732.83,510.6) rotate(-60)" text-anchor="end" dy="8.5" font-size="24" letter-spacing="1.4" fill="#333">2023-07-05</text>
<text transform="translate(769.86,510.6) rotate(-60)" text-anchor="end" dy="8.5" font-size="24" letter-spacing="1.4" fill="#333">2023-08-10</text>
<text transform="translate(806.89,510.6) rotate(-60)" text-anchor="end" dy="8.5" font-size="24" letter-spacing="1.4" fill="#333">2023-09-15</text>
<text transform="translate(843.92,510.6) rotate(-60)" text-anchor="end" dy="8.5" font-size="24" letter-spacing="1.4" fill="#333">2023-10-30</text>
<text transform="translate(880.95,510.6) rotate(-60)" text-anchor="end" dy="8.5" font-size="24" letter-spacing="1.4" fill="#333">2023-12-05</text>
<text transform="translate(917.98,510.6) rotate(-60)" text-anchor="end" dy="8.5" font-size="24" letter-spacing="1.4" fill="#333">2024-01-10</text>
<text transform="translate(955.01,510.6) rotate(-60)" text-anchor="end" dy="8.5" font-size="24" letter-spacing="1.4" fill="#333">2024-02-23</text>
<text transform="translate(992.05,510.6) rotate(-60)" text-anchor="end" dy="8.5" font-size="24" letter-spacing="1.4" fill="#333">2024-03-31</text>
<text transform="translate(1029.08,510.6) rotate(-60)" text-anchor="end" dy="8.5" font-size="24" letter-spacing="1.4" fill="#333">2024-05-13</text>
<text transform="translate(1066.11,510.6) rotate(-60)" text-anchor="end" dy="8.5" font-size="24" letter-spacing="1.4" fill="#333">2024-06-19</text>
<text transform="translate(1103.14,510.6) rotate(-60)" text-anchor="end" dy="8.5" font-size="24" letter-spacing="1.4" fill="#333">2024-07-24</text>
<text transform="translate(1140.17,510.6) rotate(-60)" text-anchor="end" dy="8.5" font-size="24" letter-spacing="1.4" fill="#333">2024-08-29</text>
<text transform="translate(1177.20,510.6) rotate(-60)" text-anchor="end" dy="8.5" font-size="24" letter-spacing="1.4" fill="#333">2024-10-15</text>
<text transform="translate(1214.23,510.6) rotate(-60)" text-anchor="end" dy="8.5" font-size="24" letter-spacing="1.4" fill="#333">2024-11-20</text>
<text transform="translate(1251.26,510.6) rotate(-60)" text-anchor="end" dy="8.5" font-size="24" letter-spacing="1.4" fill="#333">2024-12-26</text>
<text transform="translate(1288.29,510.6) rotate(-60)" text-anchor="end" dy="8.5" font-size="24" letter-spacing="1.4" fill="#333">2025-02-11</text>
<text transform="translate(1325.32,510.6) rotate(-60)" text-anchor="end" dy="8.5" font-size="24" letter-spacing="1.4" fill="#333">2025-03-19</text>
<text transform="translate(1362.35,510.6) rotate(-60)" text-anchor="end" dy="8.5" font-size="24" letter-spacing="1.4" fill="#333">2025-04-25</text>
<text transform="translate(1399.38,510.6) rotate(-60)" text-anchor="end" dy="8.5" font-size="24" letter-spacing="1.4" fill="#333">2025-06-06</text>
<text transform="translate(1436.41,510.6) rotate(-60)" text-anchor="end" dy="8.5" font-size="24" letter-spacing="1.4" fill="#333">2025-07-14</text>
<text transform="translate(1473.44,510.6) rotate(-60)" text-anchor="end" dy="8.5" font-size="24" letter-spacing="1.4" fill="#333">2025-08-19</text>
<text transform="translate(1534.40,510.6) rotate(-60)" text-anchor="end" dy="8.5" font-size="24" letter-spacing="1.4" fill="#333">2025-10-24</text>
<line x1="427.2" y1="737.9" x2="477.6" y2="737.9" stroke="#84a5da" stroke-width="2"/>
<circle cx="452.3" cy="737.8" r="11.1" fill="#fff" stroke="#84a5da" stroke-width="2"/>
<text x="487" y="744.6" font-size="24" fill="#333">银河康乐股票A</text>
<line x1="669.2" y1="737.9" x2="719.6" y2="737.9" stroke="#fdd79a" stroke-width="2"/>
<circle cx="694.3" cy="737.8" r="11.1" fill="#fff" stroke="#fdd79a" stroke-width="2"/>
<text x="729" y="744.6" font-size="24" fill="#333">同类平均</text>
<line x1="846.2" y1="737.9" x2="896.6" y2="737.9" stroke="#83d0d8" stroke-width="2"/>
<circle cx="871.3" cy="737.8" r="11.1" fill="#fff" stroke="#83d0d8" stroke-width="2"/>
<text x="906" y="744.6" font-size="24" fill="#333">沪深300</text>
<line x1="1017.2" y1="737.9" x2="1067.6" y2="737.9" stroke="#9e9e9e" stroke-width="2"/>
<circle cx="1042.3" cy="737.8" r="11.1" fill="#fff" stroke="#9e9e9e" stroke-width="2"/>
<text x="1077" y="744.6" font-size="24" fill="#333">主动股基</text>
<text x="800" y="796.5" text-anchor="middle" font-size="18" fill="#c7962b">制图数据来自恒生聚源数据库</text>
</svg></body></html>
